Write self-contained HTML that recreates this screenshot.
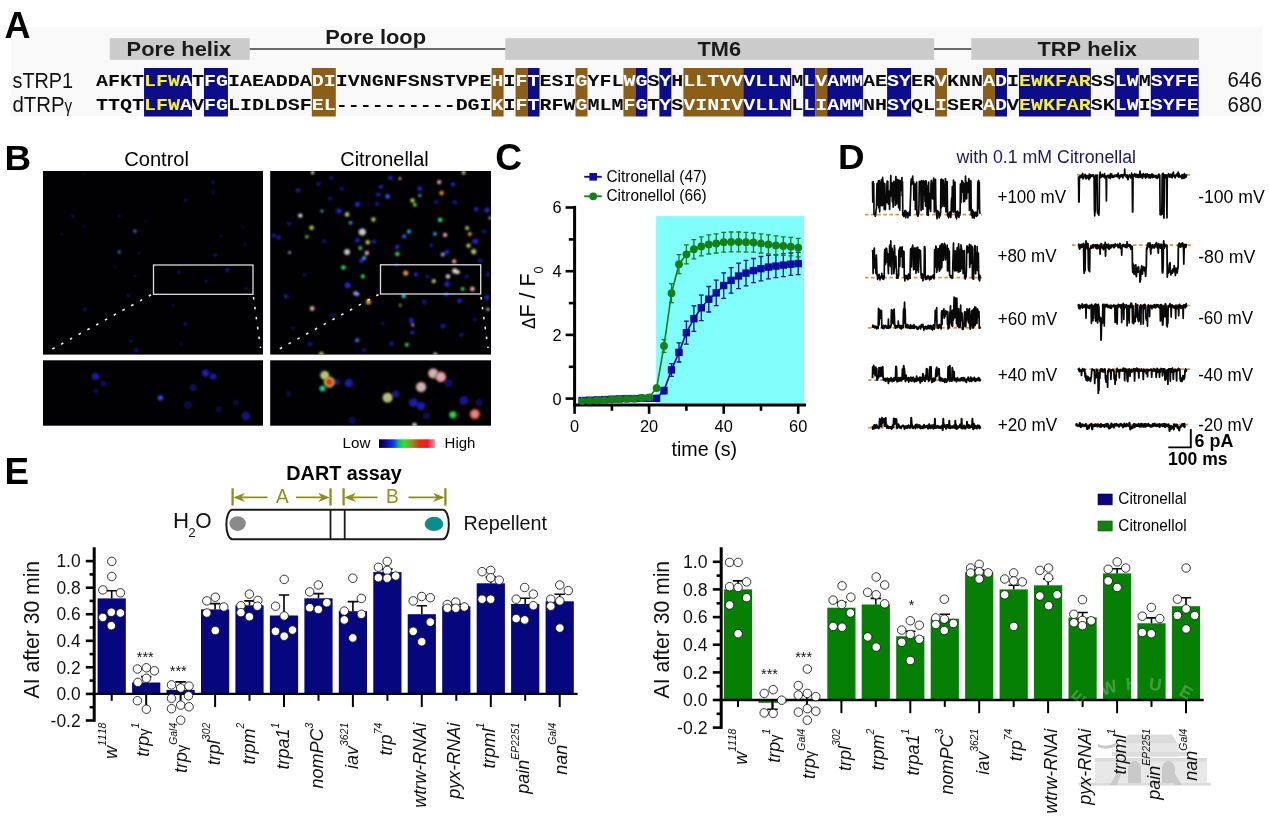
<!DOCTYPE html>
<html><head><meta charset="utf-8"><title>Figure</title>
<style>html,body{margin:0;padding:0;background:#fff;}svg{display:block;font-family:"Liberation Sans", Arial, Helvetica, sans-serif;font-kerning:none;}</style>
</head><body>
<svg width="1269" height="821" viewBox="0 0 1269 821">
<rect x="11" y="26.7" width="1251.5" height="89.3" fill="#f9f9f9"/>
<rect x="109.7" y="38.2" width="140" height="21.6" fill="#cbcbcb"/>
<rect x="505.3" y="38.2" width="428.8" height="21.6" fill="#cbcbcb"/>
<rect x="971.3" y="38.2" width="227.6" height="21.6" fill="#cbcbcb"/>
<line x1="249.7" y1="49" x2="505.3" y2="49" stroke="#3a3a3a" stroke-width="1.5"/>
<line x1="934" y1="49" x2="971.3" y2="49" stroke="#3a3a3a" stroke-width="1.5"/>
<text x="126.6" y="56.3" font-size="20.90" font-weight="bold" font-style="normal" fill="#1a1a1a" text-anchor="start"  textLength="104.6" lengthAdjust="spacingAndGlyphs">Pore helix</text>
<text x="325.2" y="44.2" font-size="20.90" font-weight="bold" font-style="normal" fill="#1a1a1a" text-anchor="start"  textLength="100.9" lengthAdjust="spacingAndGlyphs">Pore loop</text>
<text x="697.5" y="56.3" font-size="20.90" font-weight="bold" font-style="normal" fill="#1a1a1a" text-anchor="start"  textLength="43.5" lengthAdjust="spacingAndGlyphs">TM6</text>
<text x="1037.5" y="56.3" font-size="20.90" font-weight="bold" font-style="normal" fill="#1a1a1a" text-anchor="start"  textLength="99.5" lengthAdjust="spacingAndGlyphs">TRP helix</text>
<text x="12.5" y="87.6" font-size="21.22" font-weight="normal" font-style="normal" fill="#111" text-anchor="start"  textLength="60.6" lengthAdjust="spacingAndGlyphs">sTRP1</text>
<text x="12.5" y="111.8" font-size="21.22" font-weight="normal" font-style="normal" fill="#111" text-anchor="start"  textLength="52.2" lengthAdjust="spacingAndGlyphs">dTRP</text>
<text x="64.6" y="111.8" font-size="18.20" font-weight="normal" font-style="normal" fill="#111" text-anchor="start"  textLength="7.6" lengthAdjust="spacingAndGlyphs">γ</text>
<text x="1227.6" y="87.3" font-size="21.22" font-weight="normal" font-style="normal" fill="#111" text-anchor="start"  textLength="34.2" lengthAdjust="spacingAndGlyphs">646</text>
<text x="1227.6" y="111.5" font-size="21.22" font-weight="normal" font-style="normal" fill="#111" text-anchor="start"  textLength="34.2" lengthAdjust="spacingAndGlyphs">680</text>
<rect x="144.04" y="68" width="47.94" height="48.5" fill="#0d0d8c"/>
<rect x="203.96" y="68" width="23.97" height="48.5" fill="#0d0d8c"/>
<rect x="311.83" y="68" width="23.97" height="48.5" fill="#8c5f19"/>
<rect x="491.61" y="68" width="11.98" height="48.5" fill="#8c5f19"/>
<rect x="515.57" y="68" width="11.98" height="48.5" fill="#8c5f19"/>
<rect x="527.56" y="68" width="11.98" height="48.5" fill="#0d0d8c"/>
<rect x="575.50" y="68" width="11.98" height="48.5" fill="#8c5f19"/>
<rect x="623.44" y="68" width="11.98" height="48.5" fill="#8c5f19"/>
<rect x="635.42" y="68" width="11.98" height="48.5" fill="#0d0d8c"/>
<rect x="659.39" y="68" width="11.98" height="48.5" fill="#0d0d8c"/>
<rect x="683.37" y="68" width="59.92" height="48.5" fill="#8c5f19"/>
<rect x="743.29" y="68" width="47.94" height="48.5" fill="#0d0d8c"/>
<rect x="803.22" y="68" width="11.98" height="48.5" fill="#0d0d8c"/>
<rect x="815.20" y="68" width="11.98" height="48.5" fill="#8c5f19"/>
<rect x="827.18" y="68" width="35.95" height="48.5" fill="#0d0d8c"/>
<rect x="887.11" y="68" width="23.97" height="48.5" fill="#0d0d8c"/>
<rect x="935.05" y="68" width="11.98" height="48.5" fill="#8c5f19"/>
<rect x="982.99" y="68" width="11.98" height="48.5" fill="#8c5f19"/>
<rect x="994.98" y="68" width="11.98" height="48.5" fill="#0d0d8c"/>
<rect x="1018.94" y="68" width="71.91" height="48.5" fill="#0d0d8c"/>
<rect x="1114.82" y="68" width="23.97" height="48.5" fill="#0d0d8c"/>
<rect x="1150.78" y="68" width="47.94" height="48.5" fill="#0d0d8c"/>
<text transform="scale(1.22,1)" x="83.68 93.51 103.33 113.15" y="85.8" font-family='"Liberation Mono", "Courier New", monospace' font-weight="bold" font-size="16.4" fill="#0a0a0a" text-anchor="middle">AFKT</text>
<text transform="scale(1.22,1)" x="122.98 132.80 142.62" y="85.8" font-family='"Liberation Mono", "Courier New", monospace' font-weight="bold" font-size="16.4" fill="#f5f032" text-anchor="middle">LFW</text>
<text transform="scale(1.22,1)" x="152.45" y="85.8" font-family='"Liberation Mono", "Courier New", monospace' font-weight="bold" font-size="16.4" fill="#ffffff" text-anchor="middle">A</text>
<text transform="scale(1.22,1)" x="162.27" y="85.8" font-family='"Liberation Mono", "Courier New", monospace' font-weight="bold" font-size="16.4" fill="#0a0a0a" text-anchor="middle">T</text>
<text transform="scale(1.22,1)" x="172.10 181.92" y="85.8" font-family='"Liberation Mono", "Courier New", monospace' font-weight="bold" font-size="16.4" fill="#ffffff" text-anchor="middle">FG</text>
<text transform="scale(1.22,1)" x="191.74 201.57 211.39 221.22 231.04 240.86 250.69" y="85.8" font-family='"Liberation Mono", "Courier New", monospace' font-weight="bold" font-size="16.4" fill="#0a0a0a" text-anchor="middle">IAEADDA</text>
<text transform="scale(1.22,1)" x="260.51 270.33" y="85.8" font-family='"Liberation Mono", "Courier New", monospace' font-weight="bold" font-size="16.4" fill="#ffffff" text-anchor="middle">DI</text>
<text transform="scale(1.22,1)" x="280.16 289.98 299.81 309.63 319.45 329.28 339.10 348.92 358.75 368.57 378.40 388.22 398.04" y="85.8" font-family='"Liberation Mono", "Courier New", monospace' font-weight="bold" font-size="16.4" fill="#0a0a0a" text-anchor="middle">IVNGNFSNSTVPE</text>
<text transform="scale(1.22,1)" x="407.87" y="85.8" font-family='"Liberation Mono", "Courier New", monospace' font-weight="bold" font-size="16.4" fill="#ffffff" text-anchor="middle">H</text>
<text transform="scale(1.22,1)" x="417.69" y="85.8" font-family='"Liberation Mono", "Courier New", monospace' font-weight="bold" font-size="16.4" fill="#0a0a0a" text-anchor="middle">I</text>
<text transform="scale(1.22,1)" x="427.51 437.34" y="85.8" font-family='"Liberation Mono", "Courier New", monospace' font-weight="bold" font-size="16.4" fill="#ffffff" text-anchor="middle">FT</text>
<text transform="scale(1.22,1)" x="447.16 456.99 466.81" y="85.8" font-family='"Liberation Mono", "Courier New", monospace' font-weight="bold" font-size="16.4" fill="#0a0a0a" text-anchor="middle">ESI</text>
<text transform="scale(1.22,1)" x="476.63" y="85.8" font-family='"Liberation Mono", "Courier New", monospace' font-weight="bold" font-size="16.4" fill="#ffffff" text-anchor="middle">G</text>
<text transform="scale(1.22,1)" x="486.46 496.28 506.10" y="85.8" font-family='"Liberation Mono", "Courier New", monospace' font-weight="bold" font-size="16.4" fill="#0a0a0a" text-anchor="middle">YFL</text>
<text transform="scale(1.22,1)" x="515.93 525.75" y="85.8" font-family='"Liberation Mono", "Courier New", monospace' font-weight="bold" font-size="16.4" fill="#ffffff" text-anchor="middle">WG</text>
<text transform="scale(1.22,1)" x="535.58" y="85.8" font-family='"Liberation Mono", "Courier New", monospace' font-weight="bold" font-size="16.4" fill="#0a0a0a" text-anchor="middle">S</text>
<text transform="scale(1.22,1)" x="545.40" y="85.8" font-family='"Liberation Mono", "Courier New", monospace' font-weight="bold" font-size="16.4" fill="#ffffff" text-anchor="middle">Y</text>
<text transform="scale(1.22,1)" x="555.22" y="85.8" font-family='"Liberation Mono", "Courier New", monospace' font-weight="bold" font-size="16.4" fill="#0a0a0a" text-anchor="middle">H</text>
<text transform="scale(1.22,1)" x="565.05 574.87 584.69 594.52 604.34 614.17 623.99 633.81 643.64" y="85.8" font-family='"Liberation Mono", "Courier New", monospace' font-weight="bold" font-size="16.4" fill="#ffffff" text-anchor="middle">LLTVVVLLN</text>
<text transform="scale(1.22,1)" x="653.46" y="85.8" font-family='"Liberation Mono", "Courier New", monospace' font-weight="bold" font-size="16.4" fill="#0a0a0a" text-anchor="middle">M</text>
<text transform="scale(1.22,1)" x="663.28 673.11 682.93 692.76 702.58" y="85.8" font-family='"Liberation Mono", "Courier New", monospace' font-weight="bold" font-size="16.4" fill="#ffffff" text-anchor="middle">LVAMM</text>
<text transform="scale(1.22,1)" x="712.40 722.23" y="85.8" font-family='"Liberation Mono", "Courier New", monospace' font-weight="bold" font-size="16.4" fill="#0a0a0a" text-anchor="middle">AE</text>
<text transform="scale(1.22,1)" x="732.05 741.88" y="85.8" font-family='"Liberation Mono", "Courier New", monospace' font-weight="bold" font-size="16.4" fill="#ffffff" text-anchor="middle">SY</text>
<text transform="scale(1.22,1)" x="751.70 761.52" y="85.8" font-family='"Liberation Mono", "Courier New", monospace' font-weight="bold" font-size="16.4" fill="#0a0a0a" text-anchor="middle">ER</text>
<text transform="scale(1.22,1)" x="771.35" y="85.8" font-family='"Liberation Mono", "Courier New", monospace' font-weight="bold" font-size="16.4" fill="#ffffff" text-anchor="middle">V</text>
<text transform="scale(1.22,1)" x="781.17 790.99 800.82" y="85.8" font-family='"Liberation Mono", "Courier New", monospace' font-weight="bold" font-size="16.4" fill="#0a0a0a" text-anchor="middle">KNN</text>
<text transform="scale(1.22,1)" x="810.64 820.47" y="85.8" font-family='"Liberation Mono", "Courier New", monospace' font-weight="bold" font-size="16.4" fill="#ffffff" text-anchor="middle">AD</text>
<text transform="scale(1.22,1)" x="830.29" y="85.8" font-family='"Liberation Mono", "Courier New", monospace' font-weight="bold" font-size="16.4" fill="#0a0a0a" text-anchor="middle">I</text>
<text transform="scale(1.22,1)" x="840.11 849.94 859.76 869.58 879.41 889.23" y="85.8" font-family='"Liberation Mono", "Courier New", monospace' font-weight="bold" font-size="16.4" fill="#f5f032" text-anchor="middle">EWKFAR</text>
<text transform="scale(1.22,1)" x="899.06 908.88" y="85.8" font-family='"Liberation Mono", "Courier New", monospace' font-weight="bold" font-size="16.4" fill="#0a0a0a" text-anchor="middle">SS</text>
<text transform="scale(1.22,1)" x="918.70 928.53" y="85.8" font-family='"Liberation Mono", "Courier New", monospace' font-weight="bold" font-size="16.4" fill="#ffffff" text-anchor="middle">LW</text>
<text transform="scale(1.22,1)" x="938.35" y="85.8" font-family='"Liberation Mono", "Courier New", monospace' font-weight="bold" font-size="16.4" fill="#0a0a0a" text-anchor="middle">M</text>
<text transform="scale(1.22,1)" x="948.17 958.00 967.82 977.65" y="85.8" font-family='"Liberation Mono", "Courier New", monospace' font-weight="bold" font-size="16.4" fill="#ffffff" text-anchor="middle">SYFE</text>
<text transform="scale(1.22,1)" x="83.68 93.51 103.33 113.15" y="110.0" font-family='"Liberation Mono", "Courier New", monospace' font-weight="bold" font-size="16.4" fill="#0a0a0a" text-anchor="middle">TTQT</text>
<text transform="scale(1.22,1)" x="122.98 132.80 142.62" y="110.0" font-family='"Liberation Mono", "Courier New", monospace' font-weight="bold" font-size="16.4" fill="#f5f032" text-anchor="middle">LFW</text>
<text transform="scale(1.22,1)" x="152.45" y="110.0" font-family='"Liberation Mono", "Courier New", monospace' font-weight="bold" font-size="16.4" fill="#ffffff" text-anchor="middle">A</text>
<text transform="scale(1.22,1)" x="162.27" y="110.0" font-family='"Liberation Mono", "Courier New", monospace' font-weight="bold" font-size="16.4" fill="#0a0a0a" text-anchor="middle">V</text>
<text transform="scale(1.22,1)" x="172.10 181.92" y="110.0" font-family='"Liberation Mono", "Courier New", monospace' font-weight="bold" font-size="16.4" fill="#ffffff" text-anchor="middle">FG</text>
<text transform="scale(1.22,1)" x="191.74 201.57 211.39 221.22 231.04 240.86 250.69" y="110.0" font-family='"Liberation Mono", "Courier New", monospace' font-weight="bold" font-size="16.4" fill="#0a0a0a" text-anchor="middle">LIDLDSF</text>
<text transform="scale(1.22,1)" x="260.51 270.33" y="110.0" font-family='"Liberation Mono", "Courier New", monospace' font-weight="bold" font-size="16.4" fill="#ffffff" text-anchor="middle">EL</text>
<text transform="scale(1.22,1)" x="280.16 289.98 299.81 309.63 319.45 329.28 339.10 348.92 358.75 368.57 378.40 388.22 398.04" y="110.0" font-family='"Liberation Mono", "Courier New", monospace' font-weight="bold" font-size="16.4" fill="#0a0a0a" text-anchor="middle">----------DGI</text>
<text transform="scale(1.22,1)" x="407.87" y="110.0" font-family='"Liberation Mono", "Courier New", monospace' font-weight="bold" font-size="16.4" fill="#ffffff" text-anchor="middle">K</text>
<text transform="scale(1.22,1)" x="417.69" y="110.0" font-family='"Liberation Mono", "Courier New", monospace' font-weight="bold" font-size="16.4" fill="#0a0a0a" text-anchor="middle">I</text>
<text transform="scale(1.22,1)" x="427.51 437.34" y="110.0" font-family='"Liberation Mono", "Courier New", monospace' font-weight="bold" font-size="16.4" fill="#ffffff" text-anchor="middle">FT</text>
<text transform="scale(1.22,1)" x="447.16 456.99 466.81" y="110.0" font-family='"Liberation Mono", "Courier New", monospace' font-weight="bold" font-size="16.4" fill="#0a0a0a" text-anchor="middle">RFW</text>
<text transform="scale(1.22,1)" x="476.63" y="110.0" font-family='"Liberation Mono", "Courier New", monospace' font-weight="bold" font-size="16.4" fill="#ffffff" text-anchor="middle">G</text>
<text transform="scale(1.22,1)" x="486.46 496.28 506.10" y="110.0" font-family='"Liberation Mono", "Courier New", monospace' font-weight="bold" font-size="16.4" fill="#0a0a0a" text-anchor="middle">MLM</text>
<text transform="scale(1.22,1)" x="515.93 525.75" y="110.0" font-family='"Liberation Mono", "Courier New", monospace' font-weight="bold" font-size="16.4" fill="#ffffff" text-anchor="middle">FG</text>
<text transform="scale(1.22,1)" x="535.58" y="110.0" font-family='"Liberation Mono", "Courier New", monospace' font-weight="bold" font-size="16.4" fill="#0a0a0a" text-anchor="middle">T</text>
<text transform="scale(1.22,1)" x="545.40" y="110.0" font-family='"Liberation Mono", "Courier New", monospace' font-weight="bold" font-size="16.4" fill="#ffffff" text-anchor="middle">Y</text>
<text transform="scale(1.22,1)" x="555.22" y="110.0" font-family='"Liberation Mono", "Courier New", monospace' font-weight="bold" font-size="16.4" fill="#0a0a0a" text-anchor="middle">S</text>
<text transform="scale(1.22,1)" x="565.05 574.87 584.69 594.52 604.34 614.17 623.99 633.81 643.64" y="110.0" font-family='"Liberation Mono", "Courier New", monospace' font-weight="bold" font-size="16.4" fill="#ffffff" text-anchor="middle">VINIVVLLN</text>
<text transform="scale(1.22,1)" x="653.46" y="110.0" font-family='"Liberation Mono", "Courier New", monospace' font-weight="bold" font-size="16.4" fill="#0a0a0a" text-anchor="middle">L</text>
<text transform="scale(1.22,1)" x="663.28 673.11 682.93 692.76 702.58" y="110.0" font-family='"Liberation Mono", "Courier New", monospace' font-weight="bold" font-size="16.4" fill="#ffffff" text-anchor="middle">LIAMM</text>
<text transform="scale(1.22,1)" x="712.40 722.23" y="110.0" font-family='"Liberation Mono", "Courier New", monospace' font-weight="bold" font-size="16.4" fill="#0a0a0a" text-anchor="middle">NH</text>
<text transform="scale(1.22,1)" x="732.05 741.88" y="110.0" font-family='"Liberation Mono", "Courier New", monospace' font-weight="bold" font-size="16.4" fill="#ffffff" text-anchor="middle">SY</text>
<text transform="scale(1.22,1)" x="751.70 761.52" y="110.0" font-family='"Liberation Mono", "Courier New", monospace' font-weight="bold" font-size="16.4" fill="#0a0a0a" text-anchor="middle">QL</text>
<text transform="scale(1.22,1)" x="771.35" y="110.0" font-family='"Liberation Mono", "Courier New", monospace' font-weight="bold" font-size="16.4" fill="#ffffff" text-anchor="middle">I</text>
<text transform="scale(1.22,1)" x="781.17 790.99 800.82" y="110.0" font-family='"Liberation Mono", "Courier New", monospace' font-weight="bold" font-size="16.4" fill="#0a0a0a" text-anchor="middle">SER</text>
<text transform="scale(1.22,1)" x="810.64 820.47" y="110.0" font-family='"Liberation Mono", "Courier New", monospace' font-weight="bold" font-size="16.4" fill="#ffffff" text-anchor="middle">AD</text>
<text transform="scale(1.22,1)" x="830.29" y="110.0" font-family='"Liberation Mono", "Courier New", monospace' font-weight="bold" font-size="16.4" fill="#0a0a0a" text-anchor="middle">V</text>
<text transform="scale(1.22,1)" x="840.11 849.94 859.76 869.58 879.41 889.23" y="110.0" font-family='"Liberation Mono", "Courier New", monospace' font-weight="bold" font-size="16.4" fill="#f5f032" text-anchor="middle">EWKFAR</text>
<text transform="scale(1.22,1)" x="899.06 908.88" y="110.0" font-family='"Liberation Mono", "Courier New", monospace' font-weight="bold" font-size="16.4" fill="#0a0a0a" text-anchor="middle">SK</text>
<text transform="scale(1.22,1)" x="918.70 928.53" y="110.0" font-family='"Liberation Mono", "Courier New", monospace' font-weight="bold" font-size="16.4" fill="#ffffff" text-anchor="middle">LW</text>
<text transform="scale(1.22,1)" x="938.35" y="110.0" font-family='"Liberation Mono", "Courier New", monospace' font-weight="bold" font-size="16.4" fill="#0a0a0a" text-anchor="middle">I</text>
<text transform="scale(1.22,1)" x="948.17 958.00 967.82 977.65" y="110.0" font-family='"Liberation Mono", "Courier New", monospace' font-weight="bold" font-size="16.4" fill="#ffffff" text-anchor="middle">SYFE</text>
<defs><filter id="bl" x="-50%" y="-50%" width="200%" height="200%"><feGaussianBlur stdDeviation="0.95"/></filter><filter id="bl2" x="-50%" y="-50%" width="200%" height="200%"><feGaussianBlur stdDeviation="1.2"/></filter><linearGradient id="cb" x1="0" x2="1" y1="0" y2="0"><stop offset="0" stop-color="#02022a"/><stop offset="0.12" stop-color="#0a0a90"/><stop offset="0.25" stop-color="#1030ff"/><stop offset="0.36" stop-color="#10c060"/><stop offset="0.45" stop-color="#30e030"/><stop offset="0.58" stop-color="#909020"/><stop offset="0.72" stop-color="#e03010"/><stop offset="0.86" stop-color="#f01830"/><stop offset="0.95" stop-color="#e07080"/><stop offset="1" stop-color="#c8b8b8"/></linearGradient><clipPath id="c1"><rect x="43" y="171" width="220" height="183.6"/></clipPath><clipPath id="c2"><rect x="43" y="360.3" width="220" height="65.4"/></clipPath><clipPath id="c3"><rect x="270.2" y="171" width="220.8" height="183.6"/></clipPath><clipPath id="c4"><rect x="270.2" y="360.3" width="220.8" height="65.4"/></clipPath></defs>
<rect x="43" y="171" width="220" height="183.6" fill="#010103"/>
<rect x="43" y="360.3" width="220" height="65.4" fill="#010103"/>
<rect x="270.2" y="171" width="220.8" height="183.6" fill="#010103"/>
<rect x="270.2" y="360.3" width="220.8" height="65.4" fill="#010103"/>
<text x="124.2" y="165.7" font-size="20.70" font-weight="normal" font-style="normal" fill="#000" text-anchor="start"  textLength="64.8" lengthAdjust="spacingAndGlyphs">Control</text>
<text x="340.3" y="165.7" font-size="20.59" font-weight="normal" font-style="normal" fill="#000" text-anchor="start"  textLength="88.4" lengthAdjust="spacingAndGlyphs">Citronellal</text>
<g clip-path="url(#c1)"><g filter="url(#bl)">
<circle cx="135.0" cy="231.1" r="1.6" fill="#4080ff" fill-opacity="1"/>
<circle cx="119.2" cy="252.0" r="1.4" fill="#6080ff" fill-opacity="1"/>
<circle cx="215.1" cy="255.1" r="1.3" fill="#2222d0" fill-opacity="1"/>
<circle cx="72.8" cy="216.1" r="1.6" fill="#14148c" fill-opacity="0.7"/>
<circle cx="119.2" cy="216.1" r="1.6" fill="#14148c" fill-opacity="0.6"/>
<circle cx="185.3" cy="200.6" r="2" fill="#14148c" fill-opacity="0.5"/>
<circle cx="212.9" cy="181.9" r="1.8" fill="#14148c" fill-opacity="0.6"/>
<circle cx="212.9" cy="192.9" r="1.8" fill="#14148c" fill-opacity="0.5"/>
<circle cx="227.3" cy="270.1" r="2" fill="#2222d0" fill-opacity="0.8"/>
<circle cx="178.7" cy="272.3" r="1.8" fill="#14148c" fill-opacity="0.8"/>
<circle cx="206.3" cy="281.1" r="1.6" fill="#14148c" fill-opacity="0.8"/>
<circle cx="83.8" cy="226.0" r="1.5" fill="#14148c" fill-opacity="0.5"/>
<circle cx="139.0" cy="253.6" r="1.5" fill="#14148c" fill-opacity="0.6"/>
<circle cx="134.6" cy="275.6" r="1.6" fill="#14148c" fill-opacity="0.5"/>
<circle cx="244.9" cy="244.7" r="1.6" fill="#14148c" fill-opacity="0.5"/>
<circle cx="61.8" cy="233.7" r="1.5" fill="#14148c" fill-opacity="0.4"/>
<circle cx="145.6" cy="220.5" r="1.5" fill="#14148c" fill-opacity="0.5"/>
<circle cx="83.8" cy="174.1" r="1.4" fill="#14148c" fill-opacity="0.5"/>
<circle cx="242.7" cy="227.1" r="1.5" fill="#14148c" fill-opacity="0.4"/>
<circle cx="114.7" cy="266.8" r="1.5" fill="#14148c" fill-opacity="0.4"/>
<circle cx="220.7" cy="235.9" r="1.5" fill="#14148c" fill-opacity="0.4"/>
</g></g>
<g clip-path="url(#c1)"><g filter="url(#bl)">
<circle cx="136.4" cy="350.2" r="2.2" fill="#14148c" fill-opacity="0.8"/>
<circle cx="185.0" cy="323.9" r="2" fill="#14148c" fill-opacity="0.8"/>
<circle cx="84.8" cy="309.2" r="2" fill="#14148c" fill-opacity="0.6"/>
<circle cx="128.7" cy="295.4" r="2" fill="#14148c" fill-opacity="0.5"/>
<circle cx="130.9" cy="341.4" r="1.8" fill="#14148c" fill-opacity="0.6"/>
<circle cx="172.5" cy="305.2" r="1.8" fill="#14148c" fill-opacity="0.5"/>
<circle cx="246.0" cy="288.8" r="1.8" fill="#14148c" fill-opacity="0.6"/>
<circle cx="181.3" cy="343.6" r="1.8" fill="#14148c" fill-opacity="0.4"/>
</g></g>
<g clip-path="url(#c2)"><g filter="url(#bl2)">
<circle cx="95.4" cy="376.5" r="3.6" fill="#2222d0" fill-opacity="0.85"/>
<circle cx="103.5" cy="383.5" r="3" fill="#14148c" fill-opacity="0.7"/>
<circle cx="205.4" cy="373.2" r="3.4" fill="#2222d0" fill-opacity="0.9"/>
<circle cx="213.1" cy="376.5" r="3.2" fill="#2222d0" fill-opacity="0.8"/>
<circle cx="160.5" cy="397.8" r="2.6" fill="#3050ff" fill-opacity="1"/>
<circle cx="193.4" cy="387.5" r="3.4" fill="#14148c" fill-opacity="0.7"/>
<circle cx="246.0" cy="416.0" r="4.4" fill="#14148c" fill-opacity="0.9"/>
<circle cx="187.9" cy="405.0" r="4" fill="#14148c" fill-opacity="0.5"/>
<circle cx="95.8" cy="390.7" r="2.5" fill="#14148c" fill-opacity="0.5"/>
<circle cx="218.6" cy="409.4" r="3" fill="#14148c" fill-opacity="0.4"/>
<circle cx="236.1" cy="402.8" r="3" fill="#14148c" fill-opacity="0.4"/>
</g></g>
<g clip-path="url(#c3)"><g filter="url(#bl)">
<circle cx="312.6" cy="172.7" r="1.7" fill="#d8d0d0" fill-opacity="1"/>
<circle cx="463.6" cy="172.7" r="2" fill="#b0c850" fill-opacity="1"/>
<circle cx="399.9" cy="178.4" r="1.5" fill="#e0a0a0" fill-opacity="1"/>
<circle cx="439.2" cy="182.1" r="2.2" fill="#e0a0a0" fill-opacity="1"/>
<circle cx="441.6" cy="193.0" r="2.2" fill="#e09040" fill-opacity="1"/>
<circle cx="298.0" cy="190.3" r="2" fill="#2222d0" fill-opacity="1"/>
<circle cx="318.4" cy="183.8" r="2" fill="#14148c" fill-opacity="1"/>
<circle cx="331.1" cy="178.0" r="2" fill="#14148c" fill-opacity="1"/>
<circle cx="390.5" cy="178.0" r="2.2" fill="#2222d0" fill-opacity="1"/>
<circle cx="419.8" cy="188.7" r="2.4" fill="#2222d0" fill-opacity="1"/>
<circle cx="419.8" cy="195.5" r="1.6" fill="#30b0e0" fill-opacity="1"/>
<circle cx="387.6" cy="196.5" r="2.4" fill="#3050ff" fill-opacity="1"/>
<circle cx="378.3" cy="194.5" r="2" fill="#2222d0" fill-opacity="1"/>
<circle cx="452.9" cy="184.4" r="2.2" fill="#2222d0" fill-opacity="1"/>
<circle cx="412.5" cy="200.4" r="2.2" fill="#b0c850" fill-opacity="1"/>
<circle cx="414.9" cy="204.7" r="2" fill="#30d060" fill-opacity="1"/>
<circle cx="357.4" cy="204.3" r="2.6" fill="#2222d0" fill-opacity="1"/>
<circle cx="376.9" cy="203.9" r="1.8" fill="#2222d0" fill-opacity="1"/>
<circle cx="436.3" cy="202.0" r="2.2" fill="#14148c" fill-opacity="1"/>
<circle cx="322.0" cy="211.1" r="1.5" fill="#30b0e0" fill-opacity="1"/>
<circle cx="338.9" cy="211.1" r="2.6" fill="#2222d0" fill-opacity="1"/>
<circle cx="347.1" cy="214.4" r="2.3" fill="#b0c850" fill-opacity="1"/>
<circle cx="350.6" cy="222.8" r="1.8" fill="#30b0e0" fill-opacity="1"/>
<circle cx="373.4" cy="219.5" r="2.2" fill="#b0c850" fill-opacity="1"/>
<circle cx="300.3" cy="215.6" r="2.2" fill="#d8d0d0" fill-opacity="1"/>
<circle cx="311.6" cy="227.7" r="2.3" fill="#b0c850" fill-opacity="1"/>
<circle cx="306.8" cy="236.8" r="1.8" fill="#30d060" fill-opacity="1"/>
<circle cx="440.2" cy="219.9" r="2.4" fill="#30d060" fill-opacity="1"/>
<circle cx="467.1" cy="228.1" r="2" fill="#b0c850" fill-opacity="1"/>
<circle cx="469.8" cy="233.9" r="2" fill="#e09040" fill-opacity="1"/>
<circle cx="487.0" cy="210.1" r="2.6" fill="#2222d0" fill-opacity="1"/>
<circle cx="476.2" cy="209.2" r="2.2" fill="#2222d0" fill-opacity="1"/>
<circle cx="362.3" cy="232.0" r="3.6" fill="#c8c8cc" fill-opacity="1"/>
<circle cx="409.0" cy="231.6" r="2" fill="#30b0e0" fill-opacity="1"/>
<circle cx="404.2" cy="236.4" r="2.2" fill="#3050ff" fill-opacity="1"/>
<circle cx="434.9" cy="233.9" r="1.8" fill="#30b0e0" fill-opacity="1"/>
<circle cx="445.1" cy="234.9" r="2.2" fill="#e0a0a0" fill-opacity="1"/>
<circle cx="367.7" cy="242.3" r="2.2" fill="#b0c850" fill-opacity="1"/>
<circle cx="374.0" cy="241.7" r="2" fill="#2222d0" fill-opacity="1"/>
<circle cx="357.4" cy="240.3" r="2.2" fill="#2222d0" fill-opacity="1"/>
<circle cx="360.3" cy="248.1" r="2" fill="#30d060" fill-opacity="1"/>
<circle cx="366.8" cy="253.0" r="2.2" fill="#e0a0a0" fill-opacity="1"/>
<circle cx="347.1" cy="252.0" r="2.9" fill="#c8c8cc" fill-opacity="1"/>
<circle cx="364.2" cy="257.9" r="2" fill="#30b0e0" fill-opacity="1"/>
<circle cx="397.3" cy="254.0" r="2.2" fill="#30d060" fill-opacity="1"/>
<circle cx="397.3" cy="247.1" r="2.4" fill="#2222d0" fill-opacity="1"/>
<circle cx="468.5" cy="245.6" r="2.2" fill="#b0c850" fill-opacity="1"/>
<circle cx="473.7" cy="251.6" r="2.6" fill="#b0c850" fill-opacity="1"/>
<circle cx="475.3" cy="241.3" r="2.8" fill="#2222d0" fill-opacity="1"/>
<circle cx="442.7" cy="254.6" r="2" fill="#80a0ff" fill-opacity="1"/>
<circle cx="447.0" cy="252.0" r="2.2" fill="#2222d0" fill-opacity="1"/>
<circle cx="454.2" cy="261.4" r="2.2" fill="#e0a0a0" fill-opacity="1"/>
<circle cx="289.6" cy="252.6" r="1.4" fill="#c0b0e0" fill-opacity="1"/>
<circle cx="343.4" cy="267.6" r="2.3" fill="#30d060" fill-opacity="1"/>
<circle cx="362.9" cy="276.4" r="2.1" fill="#30d060" fill-opacity="1"/>
<circle cx="347.7" cy="285.1" r="2.6" fill="#2222d0" fill-opacity="1"/>
<circle cx="361.3" cy="260.8" r="2.4" fill="#2222d0" fill-opacity="1"/>
<circle cx="357.4" cy="293.9" r="2" fill="#8090ff" fill-opacity="1"/>
<circle cx="403.8" cy="296.2" r="1.8" fill="#30b0e0" fill-opacity="1"/>
<circle cx="405.7" cy="273.1" r="2.6" fill="#e09040" fill-opacity="1"/>
<circle cx="415.9" cy="274.4" r="2.2" fill="#2222d0" fill-opacity="1"/>
<circle cx="454.8" cy="270.9" r="2.6" fill="#d8d0d0" fill-opacity="1"/>
<circle cx="457.7" cy="272.1" r="2.2" fill="#d8d0d0" fill-opacity="1"/>
<circle cx="448.0" cy="276.4" r="2.2" fill="#d8d0d0" fill-opacity="1"/>
<circle cx="433.8" cy="281.2" r="2.1" fill="#b0c850" fill-opacity="1"/>
<circle cx="447.0" cy="284.2" r="2.6" fill="#2222d0" fill-opacity="1"/>
<circle cx="462.6" cy="289.0" r="2" fill="#30d060" fill-opacity="1"/>
<circle cx="472.4" cy="289.0" r="2.4" fill="#e0a0a0" fill-opacity="1"/>
<circle cx="278.5" cy="237.4" r="2.4" fill="#14148c" fill-opacity="1"/>
<circle cx="273.6" cy="235.5" r="2.2" fill="#14148c" fill-opacity="1"/>
<circle cx="489.9" cy="217.9" r="1.6" fill="#9090a0" fill-opacity="1"/>
<circle cx="396.4" cy="264.7" r="2" fill="#14148c" fill-opacity="1"/>
<circle cx="427.5" cy="276.4" r="2" fill="#14148c" fill-opacity="1"/>
<circle cx="484.0" cy="231.6" r="2.2" fill="#14148c" fill-opacity="1"/>
<circle cx="480.1" cy="260.8" r="2.4" fill="#14148c" fill-opacity="1"/>
<circle cx="330.1" cy="198.4" r="2" fill="#14148c" fill-opacity="1"/>
<circle cx="289.2" cy="223.8" r="2" fill="#14148c" fill-opacity="1"/>
<circle cx="324.3" cy="241.3" r="2" fill="#14148c" fill-opacity="1"/>
<circle cx="454.8" cy="202.3" r="2.2" fill="#14148c" fill-opacity="1"/>
<circle cx="431.4" cy="245.2" r="2" fill="#14148c" fill-opacity="1"/>
<circle cx="380.8" cy="186.8" r="2" fill="#2222d0" fill-opacity="1"/>
<circle cx="341.8" cy="188.7" r="2" fill="#14148c" fill-opacity="1"/>
<circle cx="487.9" cy="274.4" r="2.2" fill="#14148c" fill-opacity="1"/>
<circle cx="304.8" cy="274.4" r="2" fill="#14148c" fill-opacity="0.6"/>
<circle cx="285.3" cy="295.9" r="2" fill="#14148c" fill-opacity="0.6"/>
<circle cx="466.5" cy="276.4" r="2" fill="#14148c" fill-opacity="1"/>
</g></g>
<g clip-path="url(#c3)"><g filter="url(#bl)">
<circle cx="312.2" cy="308.5" r="2.4" fill="#e0a0a0" fill-opacity="1"/>
<circle cx="368.5" cy="301.9" r="2.6" fill="#e09040" fill-opacity="1"/>
<circle cx="355.3" cy="293.2" r="2" fill="#90a0ff" fill-opacity="1"/>
<circle cx="347.7" cy="285.5" r="2.4" fill="#2222d0" fill-opacity="1"/>
<circle cx="403.6" cy="295.8" r="1.8" fill="#30b0e0" fill-opacity="1"/>
<circle cx="400.3" cy="305.2" r="1.2" fill="#b0c850" fill-opacity="1"/>
<circle cx="446.3" cy="294.2" r="2.2" fill="#2222d0" fill-opacity="1"/>
<circle cx="459.5" cy="300.8" r="2.4" fill="#2222d0" fill-opacity="1"/>
<circle cx="486.8" cy="297.5" r="2.4" fill="#2222d0" fill-opacity="1"/>
<circle cx="487.9" cy="309.2" r="1.8" fill="#a0a0a0" fill-opacity="1"/>
<circle cx="411.2" cy="320.5" r="2.4" fill="#2222d0" fill-opacity="1"/>
<circle cx="412.8" cy="324.9" r="1.5" fill="#e0a0a0" fill-opacity="1"/>
<circle cx="412.3" cy="332.6" r="2" fill="#2222d0" fill-opacity="1"/>
<circle cx="443.0" cy="326.0" r="2.6" fill="#14148c" fill-opacity="1"/>
<circle cx="357.1" cy="340.3" r="2" fill="#3080e0" fill-opacity="1"/>
<circle cx="406.8" cy="344.7" r="2" fill="#30d060" fill-opacity="1"/>
<circle cx="310.0" cy="344.0" r="2.2" fill="#14148c" fill-opacity="1"/>
<circle cx="321.4" cy="354.1" r="2.4" fill="#b0c850" fill-opacity="1"/>
<circle cx="364.1" cy="350.1" r="2.2" fill="#14148c" fill-opacity="1"/>
<circle cx="435.3" cy="354.5" r="2" fill="#d8d0d0" fill-opacity="1"/>
<circle cx="391.5" cy="343.6" r="2.4" fill="#14148c" fill-opacity="1"/>
<circle cx="424.4" cy="301.9" r="2.4" fill="#14148c" fill-opacity="1"/>
<circle cx="286.3" cy="296.4" r="2.2" fill="#14148c" fill-opacity="1"/>
<circle cx="332.3" cy="315.1" r="2" fill="#14148c" fill-opacity="1"/>
<circle cx="461.6" cy="334.8" r="2" fill="#14148c" fill-opacity="1"/>
<circle cx="382.7" cy="323.8" r="2" fill="#14148c" fill-opacity="0.6"/>
<circle cx="474.8" cy="319.5" r="2" fill="#14148c" fill-opacity="0.6"/>
<circle cx="292.9" cy="328.2" r="2" fill="#14148c" fill-opacity="0.5"/>
</g></g>
<g clip-path="url(#c4)"><g filter="url(#bl2)">
<circle cx="348.8" cy="383.0" r="4" fill="#2222d0" fill-opacity="0.85"/>
<circle cx="413.4" cy="402.7" r="4.4" fill="#2222d0" fill-opacity="0.85"/>
<circle cx="421.1" cy="406.0" r="4" fill="#2222d0" fill-opacity="0.8"/>
<circle cx="463.8" cy="400.5" r="4.5" fill="#14148c" fill-opacity="1"/>
<circle cx="395.9" cy="394.0" r="3.6" fill="#14148c" fill-opacity="1"/>
<circle cx="448.5" cy="383.0" r="4" fill="#14148c" fill-opacity="0.7"/>
<circle cx="336.7" cy="381.9" r="3" fill="#14148c" fill-opacity="1"/>
<circle cx="479.2" cy="402.7" r="3.5" fill="#14148c" fill-opacity="0.7"/>
<circle cx="352.1" cy="420.3" r="3.5" fill="#14148c" fill-opacity="0.6"/>
<circle cx="288.5" cy="394.0" r="3" fill="#14148c" fill-opacity="0.4"/>
<circle cx="426.6" cy="415.9" r="3.5" fill="#14148c" fill-opacity="0.6"/>
<circle cx="322.5" cy="388.5" r="3" fill="#20c890" fill-opacity="1"/>
<circle cx="452.9" cy="414.8" r="3.6" fill="#20d040" fill-opacity="1"/>
<circle cx="414.5" cy="425.1" r="2.4" fill="#d8d0d0" fill-opacity="1"/>
</g></g>
<g clip-path="url(#c4)" filter="url(#bl)"><circle cx="324.7" cy="375.3" r="4.6" fill="#40d040"/><circle cx="324.7" cy="375.3" r="3.6" fill="#c0d060"/><circle cx="324.7" cy="375.3" r="2.5" fill="#e0a0a0"/></g>
<g clip-path="url(#c4)" filter="url(#bl)"><circle cx="329.3" cy="382.1" r="5.6" fill="#90d040"/><circle cx="329.3" cy="382.1" r="4.4" fill="#e07030"/><circle cx="329.3" cy="382.1" r="3.1" fill="#f02020"/></g>
<g clip-path="url(#c4)" filter="url(#bl)"><circle cx="387.6" cy="397.7" r="5.0" fill="#a0c040"/><circle cx="387.6" cy="397.7" r="3.9" fill="#c8c870"/><circle cx="387.6" cy="397.7" r="2.8" fill="#b8b0a0"/></g>
<g clip-path="url(#c4)" filter="url(#bl)"><circle cx="421.1" cy="387.0" r="5.2" fill="#c08888"/><circle cx="421.1" cy="387.0" r="4.1" fill="#c8b0b0"/><circle cx="421.1" cy="387.0" r="2.9" fill="#c6b8b8"/></g>
<g clip-path="url(#c4)" filter="url(#bl)"><circle cx="433.2" cy="373.4" r="5.2" fill="#c08080"/><circle cx="433.2" cy="373.4" r="4.1" fill="#c8b0b0"/><circle cx="433.2" cy="373.4" r="2.9" fill="#c6b8b8"/></g>
<g clip-path="url(#c4)" filter="url(#bl)"><circle cx="440.8" cy="376.9" r="5.6" fill="#d04848"/><circle cx="440.8" cy="376.9" r="4.4" fill="#d0a0a0"/><circle cx="440.8" cy="376.9" r="3.1" fill="#c8b4b4"/></g>
<g clip-path="url(#c4)" filter="url(#bl)"><circle cx="474.8" cy="414.1" r="5.4" fill="#c83020"/><circle cx="474.8" cy="414.1" r="4.2" fill="#e05848"/><circle cx="474.8" cy="414.1" r="3.0" fill="#d89090"/></g>
<rect x="153.5" y="265" width="99.5" height="29.3" stroke="#dcdcdc" stroke-width="1.3" fill="none"/>
<rect x="380.5" y="264.8" width="100.2" height="29.2" stroke="#dcdcdc" stroke-width="1.3" fill="none"/>
<line x1="151" y1="294.8" x2="49" y2="350.8" stroke="#f0ece0" stroke-width="1.6" stroke-dasharray="2.6 7.4" fill="none"/>
<line x1="253.5" y1="297" x2="260.5" y2="348" stroke="#f0ece0" stroke-width="1.6" stroke-dasharray="2.6 7.4" fill="none"/>
<line x1="378.5" y1="294.5" x2="276" y2="350.8" stroke="#f0ece0" stroke-width="1.6" stroke-dasharray="2.6 7.4" fill="none"/>
<line x1="481" y1="297" x2="488" y2="348" stroke="#f0ece0" stroke-width="1.6" stroke-dasharray="2.6 7.4" fill="none"/>
<text x="342.6" y="448.3" font-size="15.50" font-weight="normal" font-style="normal" fill="#000" text-anchor="start"  textLength="27.8" lengthAdjust="spacingAndGlyphs">Low</text>
<rect x="379" y="439.3" width="56.3" height="8.6" fill="url(#cb)"/>
<text x="444.6" y="448.3" font-size="15.50" font-weight="normal" font-style="normal" fill="#000" text-anchor="start"  textLength="30.8" lengthAdjust="spacingAndGlyphs">High</text>
<rect x="656.1" y="216.1" width="148" height="187.4" fill="#80fffd"/>
<line x1="574.6" y1="205.9" x2="574.6" y2="406.5" stroke="#000" stroke-width="3"/>
<line x1="573.1" y1="405" x2="806" y2="405" stroke="#000" stroke-width="3"/>
<line x1="565.6" y1="398.6" x2="574.6" y2="398.6" stroke="#000" stroke-width="2.6"/>
<text x="561.6" y="404.5" font-size="17.06" font-weight="normal" font-style="normal" fill="#000" text-anchor="end"  textLength="9.1" lengthAdjust="spacingAndGlyphs">0</text>
<line x1="568.8" y1="366.8" x2="574.6" y2="366.8" stroke="#000" stroke-width="2.6"/>
<line x1="565.6" y1="334.9" x2="574.6" y2="334.9" stroke="#000" stroke-width="2.6"/>
<text x="561.6" y="340.8" font-size="17.06" font-weight="normal" font-style="normal" fill="#000" text-anchor="end"  textLength="9.1" lengthAdjust="spacingAndGlyphs">2</text>
<line x1="568.8" y1="303.1" x2="574.6" y2="303.1" stroke="#000" stroke-width="2.6"/>
<line x1="565.6" y1="271.2" x2="574.6" y2="271.2" stroke="#000" stroke-width="2.6"/>
<text x="561.6" y="277.1" font-size="17.06" font-weight="normal" font-style="normal" fill="#000" text-anchor="end"  textLength="9.1" lengthAdjust="spacingAndGlyphs">4</text>
<line x1="568.8" y1="239.4" x2="574.6" y2="239.4" stroke="#000" stroke-width="2.6"/>
<line x1="565.6" y1="207.5" x2="574.6" y2="207.5" stroke="#000" stroke-width="2.6"/>
<text x="561.6" y="213.4" font-size="17.06" font-weight="normal" font-style="normal" fill="#000" text-anchor="end"  textLength="9.1" lengthAdjust="spacingAndGlyphs">6</text>
<line x1="574.6" y1="405" x2="574.6" y2="413.8" stroke="#000" stroke-width="2.6"/>
<text x="574.6" y="431.8" font-size="17.06" font-weight="normal" font-style="normal" fill="#000" text-anchor="middle"  textLength="9.1" lengthAdjust="spacingAndGlyphs">0</text>
<line x1="611.9" y1="405" x2="611.9" y2="410.8" stroke="#000" stroke-width="2.6"/>
<line x1="649.1" y1="405" x2="649.1" y2="413.8" stroke="#000" stroke-width="2.6"/>
<text x="649.1" y="431.8" font-size="17.06" font-weight="normal" font-style="normal" fill="#000" text-anchor="middle"  textLength="18.2" lengthAdjust="spacingAndGlyphs">20</text>
<line x1="686.4" y1="405" x2="686.4" y2="410.8" stroke="#000" stroke-width="2.6"/>
<line x1="723.7" y1="405" x2="723.7" y2="413.8" stroke="#000" stroke-width="2.6"/>
<text x="723.7" y="431.8" font-size="17.06" font-weight="normal" font-style="normal" fill="#000" text-anchor="middle"  textLength="18.2" lengthAdjust="spacingAndGlyphs">40</text>
<line x1="761.0" y1="405" x2="761.0" y2="410.8" stroke="#000" stroke-width="2.6"/>
<line x1="798.2" y1="405" x2="798.2" y2="413.8" stroke="#000" stroke-width="2.6"/>
<text x="798.2" y="431.8" font-size="17.06" font-weight="normal" font-style="normal" fill="#000" text-anchor="middle"  textLength="18.2" lengthAdjust="spacingAndGlyphs">60</text>
<text x="671.5" y="456.0" font-size="20.28" font-weight="normal" font-style="normal" fill="#000" text-anchor="start"  textLength="65.5" lengthAdjust="spacingAndGlyphs">time (s)</text>
<text transform="translate(534.9,329) rotate(-90)" font-size="21.8" textLength="55.5" lengthAdjust="spacingAndGlyphs"><tspan font-size="17.5">Δ</tspan>F / F</text>
<text transform="translate(543.4,273.4) rotate(-90)" font-size="12.6">0</text>
<polyline points="582.1,400.5 589.5,400.2 597.0,399.9 604.4,399.6 611.9,399.2 619.3,398.9 626.8,398.6 634.2,398.6 641.7,398.3 649.1,398.3 656.6,398.3 664.0,390.6 671.5,369.9 679.0,352.4 686.4,332.7 693.9,318.7 701.3,307.8 708.8,299.2 716.2,292.9 723.7,285.5 731.1,280.4 738.6,276.0 746.0,273.1 753.5,270.6 761.0,268.7 768.4,267.1 775.9,266.1 783.3,265.1 790.8,264.2 798.2,263.6" fill="none" stroke="#0c0ca0" stroke-width="1.6"/>
<path d="M582.1 398.9V402.1M579.7 398.9h4.8M579.7 402.1h4.8M589.5 398.6V401.8M587.1 398.6h4.8M587.1 401.8h4.8M597.0 398.3V401.5M594.6 398.3h4.8M594.6 401.5h4.8M604.4 398.0V401.1M602.0 398.0h4.8M602.0 401.1h4.8M611.9 397.6V400.8M609.5 397.6h4.8M609.5 400.8h4.8M619.3 397.3V400.5M616.9 397.3h4.8M616.9 400.5h4.8M626.8 397.0V400.2M624.4 397.0h4.8M624.4 400.2h4.8M634.2 397.0V400.2M631.8 397.0h4.8M631.8 400.2h4.8M641.7 396.7V399.9M639.3 396.7h4.8M639.3 399.9h4.8M649.1 396.7V399.9M646.7 396.7h4.8M646.7 399.9h4.8M656.6 396.7V399.9M654.2 396.7h4.8M654.2 399.9h4.8M664.0 387.5V393.8M661.6 387.5h4.8M661.6 393.8h4.8M671.5 363.6V376.3M669.1 363.6h4.8M669.1 376.3h4.8M679.0 342.9V362.0M676.6 342.9h4.8M676.6 362.0h4.8M686.4 321.2V344.1M684.0 321.2h4.8M684.0 344.1h4.8M693.9 305.9V331.4M691.5 305.9h4.8M691.5 331.4h4.8M701.3 295.1V320.6M698.9 295.1h4.8M698.9 320.6h4.8M708.8 286.5V312.0M706.4 286.5h4.8M706.4 312.0h4.8M716.2 280.1V305.6M713.8 280.1h4.8M713.8 305.6h4.8M723.7 272.8V298.3M721.3 272.8h4.8M721.3 298.3h4.8M731.1 267.7V293.2M728.7 267.7h4.8M728.7 293.2h4.8M738.6 263.2V288.7M736.2 263.2h4.8M736.2 288.7h4.8M746.0 260.4V285.9M743.6 260.4h4.8M743.6 285.9h4.8M753.5 258.5V282.7M751.1 258.5h4.8M751.1 282.7h4.8M761.0 256.5V280.8M758.6 256.5h4.8M758.6 280.8h4.8M768.4 255.3V278.8M766.0 255.3h4.8M766.0 278.8h4.8M775.9 254.6V277.6M773.5 254.6h4.8M773.5 277.6h4.8M783.3 253.7V276.6M780.9 253.7h4.8M780.9 276.6h4.8M790.8 253.0V275.3M788.4 253.0h4.8M788.4 275.3h4.8M798.2 252.4V274.7M795.8 252.4h4.8M795.8 274.7h4.8" stroke="#0c0ca0" stroke-width="1.3" fill="none"/>
<rect x="578.4" y="396.8" width="7.4" height="7.4" fill="#0c0ca0"/>
<rect x="585.8" y="396.5" width="7.4" height="7.4" fill="#0c0ca0"/>
<rect x="593.3" y="396.2" width="7.4" height="7.4" fill="#0c0ca0"/>
<rect x="600.7" y="395.9" width="7.4" height="7.4" fill="#0c0ca0"/>
<rect x="608.2" y="395.5" width="7.4" height="7.4" fill="#0c0ca0"/>
<rect x="615.6" y="395.2" width="7.4" height="7.4" fill="#0c0ca0"/>
<rect x="623.1" y="394.9" width="7.4" height="7.4" fill="#0c0ca0"/>
<rect x="630.5" y="394.9" width="7.4" height="7.4" fill="#0c0ca0"/>
<rect x="638.0" y="394.6" width="7.4" height="7.4" fill="#0c0ca0"/>
<rect x="645.4" y="394.6" width="7.4" height="7.4" fill="#0c0ca0"/>
<rect x="652.9" y="394.6" width="7.4" height="7.4" fill="#0c0ca0"/>
<rect x="660.3" y="386.9" width="7.4" height="7.4" fill="#0c0ca0"/>
<rect x="667.8" y="366.2" width="7.4" height="7.4" fill="#0c0ca0"/>
<rect x="675.3" y="348.7" width="7.4" height="7.4" fill="#0c0ca0"/>
<rect x="682.7" y="329.0" width="7.4" height="7.4" fill="#0c0ca0"/>
<rect x="690.2" y="315.0" width="7.4" height="7.4" fill="#0c0ca0"/>
<rect x="697.6" y="304.1" width="7.4" height="7.4" fill="#0c0ca0"/>
<rect x="705.1" y="295.5" width="7.4" height="7.4" fill="#0c0ca0"/>
<rect x="712.5" y="289.2" width="7.4" height="7.4" fill="#0c0ca0"/>
<rect x="720.0" y="281.8" width="7.4" height="7.4" fill="#0c0ca0"/>
<rect x="727.4" y="276.7" width="7.4" height="7.4" fill="#0c0ca0"/>
<rect x="734.9" y="272.3" width="7.4" height="7.4" fill="#0c0ca0"/>
<rect x="742.3" y="269.4" width="7.4" height="7.4" fill="#0c0ca0"/>
<rect x="749.8" y="266.9" width="7.4" height="7.4" fill="#0c0ca0"/>
<rect x="757.2" y="265.0" width="7.4" height="7.4" fill="#0c0ca0"/>
<rect x="764.7" y="263.4" width="7.4" height="7.4" fill="#0c0ca0"/>
<rect x="772.2" y="262.4" width="7.4" height="7.4" fill="#0c0ca0"/>
<rect x="779.6" y="261.4" width="7.4" height="7.4" fill="#0c0ca0"/>
<rect x="787.1" y="260.5" width="7.4" height="7.4" fill="#0c0ca0"/>
<rect x="794.5" y="259.9" width="7.4" height="7.4" fill="#0c0ca0"/>
<polyline points="582.1,401.1 589.5,400.8 597.0,400.5 604.4,400.2 611.9,399.6 619.3,399.2 626.8,398.9 634.2,398.6 641.7,398.0 649.1,397.3 656.6,388.1 664.0,346.0 671.5,293.2 679.0,264.2 686.4,254.3 693.9,249.2 701.3,246.4 708.8,244.4 716.2,243.5 723.7,242.2 731.1,241.9 738.6,241.9 746.0,242.2 753.5,242.5 761.0,243.5 768.4,244.4 775.9,245.4 783.3,246.0 790.8,246.7 798.2,247.6" fill="none" stroke="#158015" stroke-width="1.6"/>
<path d="M582.1 399.6V402.7M579.7 399.6h4.8M579.7 402.7h4.8M589.5 399.2V402.4M587.1 399.2h4.8M587.1 402.4h4.8M597.0 398.9V402.1M594.6 398.9h4.8M594.6 402.1h4.8M604.4 398.6V401.8M602.0 398.6h4.8M602.0 401.8h4.8M611.9 398.0V401.1M609.5 398.0h4.8M609.5 401.1h4.8M619.3 397.6V400.8M616.9 397.6h4.8M616.9 400.8h4.8M626.8 397.3V400.5M624.4 397.3h4.8M624.4 400.5h4.8M634.2 397.0V400.2M631.8 397.0h4.8M631.8 400.2h4.8M641.7 396.4V399.6M639.3 396.4h4.8M639.3 399.6h4.8M649.1 395.7V398.9M646.7 395.7h4.8M646.7 398.9h4.8M656.6 385.5V390.6M654.2 385.5h4.8M654.2 390.6h4.8M664.0 339.7V352.4M661.6 339.7h4.8M661.6 352.4h4.8M671.5 283.6V302.7M669.1 283.6h4.8M669.1 302.7h4.8M679.0 254.6V273.7M676.6 254.6h4.8M676.6 273.7h4.8M686.4 244.8V263.9M684.0 244.8h4.8M684.0 263.9h4.8M693.9 239.7V258.8M691.5 239.7h4.8M691.5 258.8h4.8M701.3 236.8V255.9M698.9 236.8h4.8M698.9 255.9h4.8M708.8 234.9V254.0M706.4 234.9h4.8M706.4 254.0h4.8M716.2 233.9V253.0M713.8 233.9h4.8M713.8 253.0h4.8M723.7 232.3V252.1M721.3 232.3h4.8M721.3 252.1h4.8M731.1 232.0V251.8M728.7 232.0h4.8M728.7 251.8h4.8M738.6 232.0V251.8M736.2 232.0h4.8M736.2 251.8h4.8M746.0 232.3V252.1M743.6 232.3h4.8M743.6 252.1h4.8M753.5 233.0V252.1M751.1 233.0h4.8M751.1 252.1h4.8M761.0 233.9V253.0M758.6 233.9h4.8M758.6 253.0h4.8M768.4 234.9V254.0M766.0 234.9h4.8M766.0 254.0h4.8M775.9 235.8V255.0M773.5 235.8h4.8M773.5 255.0h4.8M783.3 236.8V255.3M780.9 236.8h4.8M780.9 255.3h4.8M790.8 237.4V255.9M788.4 237.4h4.8M788.4 255.9h4.8M798.2 238.4V256.9M795.8 238.4h4.8M795.8 256.9h4.8" stroke="#158015" stroke-width="1.3" fill="none"/>
<circle cx="582.1" cy="401.1" r="3.9" fill="#158015"/>
<circle cx="589.5" cy="400.8" r="3.9" fill="#158015"/>
<circle cx="597.0" cy="400.5" r="3.9" fill="#158015"/>
<circle cx="604.4" cy="400.2" r="3.9" fill="#158015"/>
<circle cx="611.9" cy="399.6" r="3.9" fill="#158015"/>
<circle cx="619.3" cy="399.2" r="3.9" fill="#158015"/>
<circle cx="626.8" cy="398.9" r="3.9" fill="#158015"/>
<circle cx="634.2" cy="398.6" r="3.9" fill="#158015"/>
<circle cx="641.7" cy="398.0" r="3.9" fill="#158015"/>
<circle cx="649.1" cy="397.3" r="3.9" fill="#158015"/>
<circle cx="656.6" cy="388.1" r="3.9" fill="#158015"/>
<circle cx="664.0" cy="346.0" r="3.9" fill="#158015"/>
<circle cx="671.5" cy="293.2" r="3.9" fill="#158015"/>
<circle cx="679.0" cy="264.2" r="3.9" fill="#158015"/>
<circle cx="686.4" cy="254.3" r="3.9" fill="#158015"/>
<circle cx="693.9" cy="249.2" r="3.9" fill="#158015"/>
<circle cx="701.3" cy="246.4" r="3.9" fill="#158015"/>
<circle cx="708.8" cy="244.4" r="3.9" fill="#158015"/>
<circle cx="716.2" cy="243.5" r="3.9" fill="#158015"/>
<circle cx="723.7" cy="242.2" r="3.9" fill="#158015"/>
<circle cx="731.1" cy="241.9" r="3.9" fill="#158015"/>
<circle cx="738.6" cy="241.9" r="3.9" fill="#158015"/>
<circle cx="746.0" cy="242.2" r="3.9" fill="#158015"/>
<circle cx="753.5" cy="242.5" r="3.9" fill="#158015"/>
<circle cx="761.0" cy="243.5" r="3.9" fill="#158015"/>
<circle cx="768.4" cy="244.4" r="3.9" fill="#158015"/>
<circle cx="775.9" cy="245.4" r="3.9" fill="#158015"/>
<circle cx="783.3" cy="246.0" r="3.9" fill="#158015"/>
<circle cx="790.8" cy="246.7" r="3.9" fill="#158015"/>
<circle cx="798.2" cy="247.6" r="3.9" fill="#158015"/>
<line x1="584.2" y1="176.8" x2="601.8" y2="176.8" stroke="#0c0ca0" stroke-width="1.9"/><rect x="589.4" y="173" width="7.6" height="7.6" fill="#0c0ca0"/>
<line x1="584.2" y1="196.3" x2="601.8" y2="196.3" stroke="#158015" stroke-width="1.9"/><circle cx="593.2" cy="196.3" r="3.9" fill="#158015"/>
<text x="606.4" y="181.8" font-size="16.02" font-weight="normal" font-style="normal" fill="#000" text-anchor="start"  textLength="100.3" lengthAdjust="spacingAndGlyphs">Citronellal (47)</text>
<text x="606.4" y="201.2" font-size="16.02" font-weight="normal" font-style="normal" fill="#000" text-anchor="start"  textLength="100.3" lengthAdjust="spacingAndGlyphs">Citronellol (66)</text>
<text x="956.5" y="162.7" font-size="18.41" font-weight="normal" font-style="normal" fill="#1a1a62" text-anchor="start"  textLength="179.5" lengthAdjust="spacingAndGlyphs">with 0.1 mM Citronellal</text>
<line x1="865" y1="214.6" x2="982" y2="214.6" stroke="#dc9448" stroke-width="1.7" stroke-dasharray="3.5 2.6"/>
<polyline points="872.5,181.6 872.8,202.0 873.1,181.7 873.4,199.7 873.7,183.3 874.0,214.1 874.3,214.2 874.6,213.0 874.9,214.2 875.2,216.2 875.5,215.9 875.8,213.1 876.1,210.1 876.4,209.1 876.7,197.0 877.0,183.7 877.3,183.7 877.6,202.3 877.9,205.2 878.2,182.7 878.5,180.9 878.8,207.7 879.1,181.7 879.4,180.5 879.7,211.8 880.0,199.4 880.3,182.4 880.6,204.9 880.9,182.6 881.2,205.5 881.5,179.5 881.8,180.4 882.1,185.1 882.4,205.6 882.7,177.4 883.0,198.7 883.3,182.0 883.6,192.8 883.9,195.6 884.2,209.4 884.5,184.8 884.8,183.7 885.1,199.3 885.4,209.7 885.7,195.3 886.0,200.9 886.3,199.4 886.6,202.7 886.9,186.1 887.2,181.1 887.5,181.9 887.8,181.5 888.1,199.0 888.4,204.2 888.7,193.8 889.0,191.3 889.3,198.2 889.6,209.5 889.9,197.8 890.2,192.9 890.5,187.1 890.8,175.6 891.1,196.0 891.4,182.9 891.7,182.6 892.0,182.8 892.3,201.8 892.6,184.9 892.9,198.3 893.2,207.2 893.5,195.1 893.8,181.4 894.1,187.4 894.4,181.8 894.7,182.2 895.0,190.8 895.3,205.4 895.6,182.7 895.9,176.5 896.2,184.3 896.5,194.5 896.8,203.9 897.1,186.3 897.4,179.4 897.7,182.6 898.0,181.3 898.3,183.2 898.6,207.6 898.9,180.0 899.2,199.0 899.5,193.0 899.8,210.1 900.1,182.8 900.4,180.9 900.7,181.0 901.0,190.5 901.3,186.0 901.6,181.6 901.9,177.5 902.2,195.7 902.5,181.8 902.8,215.0 903.1,213.7 903.4,215.6 903.7,216.3 904.0,216.5 904.3,212.7 904.6,215.3 904.9,210.6 905.2,212.0 905.5,210.5 905.8,217.8 906.1,211.7 906.4,213.8 906.7,213.5 907.0,213.8 907.3,212.8 907.6,214.2 907.9,217.8 908.2,213.9 908.5,214.7 908.8,215.5 909.1,213.5 909.4,211.7 909.7,212.9 910.0,215.6 910.3,202.5 910.6,196.3 910.9,182.7 911.2,179.2 911.5,184.7 911.8,180.8 912.1,178.3 912.4,182.0 912.7,176.2 913.0,183.2 913.3,184.2 913.6,181.6 913.9,199.9 914.2,195.5 914.5,185.8 914.8,184.0 915.1,184.6 915.4,209.6 915.7,184.1 916.0,200.9 916.3,199.7 916.6,182.0 916.9,213.2 917.2,214.8 917.5,212.7 917.8,216.3 918.1,215.9 918.4,214.1 918.7,213.5 919.0,203.9 919.3,181.4 919.6,182.2 919.9,191.0 920.2,182.1 920.5,182.1 920.8,183.7 921.1,210.4 921.4,180.5 921.7,205.3 922.0,181.2 922.3,187.8 922.6,185.0 922.9,209.2 923.2,184.9 923.5,180.5 923.8,193.0 924.1,193.7 924.4,194.6 924.7,181.5 925.0,201.2 925.3,195.7 925.6,206.3 925.9,180.7 926.2,181.8 926.5,186.1 926.8,185.3 927.1,214.7 927.4,212.3 927.7,211.2 928.0,213.7 928.3,215.3 928.6,182.0 928.9,197.8 929.2,193.0 929.5,193.8 929.8,208.7 930.1,195.5 930.4,200.3 930.7,211.4 931.0,184.7 931.3,180.4 931.6,198.0 931.9,184.8 932.2,182.3 932.5,196.0 932.8,199.0 933.1,195.3 933.4,182.4 933.7,178.0 934.0,181.5 934.3,211.9 934.6,206.1 934.9,181.8 935.2,181.7 935.5,179.4 935.8,201.7 936.1,210.6 936.4,213.7 936.7,214.9 937.0,218.8 937.3,210.7 937.6,212.0 937.9,212.7 938.2,211.4 938.5,213.9 938.8,214.2 939.1,217.8 939.4,215.0 939.7,216.4 940.0,215.8 940.3,211.6 940.6,212.9 940.9,179.5 941.2,207.8 941.5,182.3 941.8,179.2 942.1,191.8 942.4,206.3 942.7,183.5 943.0,186.4 943.3,180.1 943.6,184.3 943.9,193.4 944.2,206.6 944.5,191.5 944.8,205.0 945.1,201.6 945.4,178.7 945.7,181.0 946.0,211.7 946.3,182.7 946.6,182.1 946.9,194.8 947.2,181.7 947.5,214.3 947.8,216.0 948.1,215.1 948.4,215.4 948.7,217.8 949.0,213.5 949.3,214.7 949.6,212.0 949.9,215.8 950.2,212.1 950.5,214.2 950.8,217.4 951.1,213.4 951.4,201.0 951.7,197.8 952.0,208.7 952.3,186.6 952.6,210.6 952.9,198.4 953.2,212.2 953.5,180.2 953.8,191.2 954.1,210.8 954.4,196.0 954.7,211.3 955.0,182.2 955.3,214.7 955.6,211.6 955.9,217.3 956.2,211.7 956.5,218.8 956.8,213.0 957.1,216.4 957.4,214.6 957.7,211.1 958.0,214.7 958.3,212.9 958.6,212.7 958.9,217.5 959.2,215.0 959.5,215.1 959.8,215.2 960.1,213.0 960.4,184.1 960.7,184.3 961.0,202.5 961.3,194.8 961.6,183.3 961.9,180.5 962.2,182.3 962.5,192.2 962.8,192.2 963.1,182.4 963.4,184.3 963.7,201.7 964.0,197.6 964.3,184.2 964.6,201.3 964.9,196.2 965.2,199.0 965.5,176.2 965.8,184.5 966.1,183.0 966.4,182.4 966.7,198.8 967.0,182.9 967.3,184.6 967.6,192.6 967.9,184.1 968.2,184.9 968.5,181.6 968.8,178.6 969.1,181.6 969.4,210.5 969.7,195.7 970.0,180.5 970.3,201.7 970.6,181.1 970.9,180.9 971.2,214.6 971.5,215.2 971.8,213.9 972.1,209.6 972.4,217.8 972.7,211.6 973.0,211.0 973.3,212.6 973.6,214.0 973.9,213.9 974.2,218.1 974.5,213.4 974.8,212.4 975.1,215.8 975.4,214.1 975.7,213.0 976.0,212.2 976.3,213.7 976.6,216.3 976.9,214.9 977.2,213.2 977.5,215.3 977.8,182.8 978.1,181.6 978.4,180.7 978.7,180.5 979.0,208.3 979.3,182.5 979.6,211.2 979.9,212.7 980.2,213.8" fill="none" stroke="#080808" stroke-width="1.7" stroke-linejoin="round"/>
<text x="997.5" y="202.5" font-size="17.58" font-weight="normal" font-style="normal" fill="#000" text-anchor="start"  textLength="68.5" lengthAdjust="spacingAndGlyphs">+100 mV</text>
<line x1="865" y1="277.7" x2="982" y2="277.7" stroke="#dc9448" stroke-width="1.7" stroke-dasharray="3.5 2.6"/>
<polyline points="872.5,249.9 872.8,252.6 873.1,273.6 873.4,257.1 873.7,252.3 874.0,250.5 874.3,248.1 874.6,259.5 874.9,268.1 875.2,262.9 875.5,261.2 875.8,273.3 876.1,262.5 876.4,255.1 876.7,264.6 877.0,275.3 877.3,274.3 877.6,279.4 877.9,277.3 878.2,278.2 878.5,277.1 878.8,276.6 879.1,274.3 879.4,278.4 879.7,276.8 880.0,279.8 880.3,277.4 880.6,276.9 880.9,277.9 881.2,276.2 881.5,276.7 881.8,273.4 882.1,276.1 882.4,277.9 882.7,278.9 883.0,276.2 883.3,276.6 883.6,279.3 883.9,276.3 884.2,278.0 884.5,254.7 884.8,249.4 885.1,264.7 885.4,249.1 885.7,263.9 886.0,248.4 886.3,251.1 886.6,248.4 886.9,251.7 887.2,261.9 887.5,259.7 887.8,253.6 888.1,266.1 888.4,273.7 888.7,257.7 889.0,265.1 889.3,263.6 889.6,245.9 889.9,246.9 890.2,244.6 890.5,266.3 890.8,240.8 891.1,258.9 891.4,251.6 891.7,273.9 892.0,248.0 892.3,250.0 892.6,255.1 892.9,252.2 893.2,251.5 893.5,258.3 893.8,273.6 894.1,271.7 894.4,245.6 894.7,249.0 895.0,266.8 895.3,258.7 895.6,260.7 895.9,256.4 896.2,268.3 896.5,270.4 896.8,278.1 897.1,276.2 897.4,276.6 897.7,278.1 898.0,277.8 898.3,274.6 898.6,276.1 898.9,250.9 899.2,250.3 899.5,248.7 899.8,266.3 900.1,247.2 900.4,251.9 900.7,247.9 901.0,256.3 901.3,252.0 901.6,247.4 901.9,256.4 902.2,246.9 902.5,267.3 902.8,265.2 903.1,250.9 903.4,251.4 903.7,252.2 904.0,251.6 904.3,277.1 904.6,277.6 904.9,280.9 905.2,275.3 905.5,276.3 905.8,276.9 906.1,278.2 906.4,276.1 906.7,278.6 907.0,275.5 907.3,277.2 907.6,276.0 907.9,279.8 908.2,275.7 908.5,274.2 908.8,278.5 909.1,277.3 909.4,275.9 909.7,277.1 910.0,278.4 910.3,260.6 910.6,248.9 910.9,250.0 911.2,248.7 911.5,266.9 911.8,250.7 912.1,247.4 912.4,247.3 912.7,245.1 913.0,251.4 913.3,253.7 913.6,269.8 913.9,264.6 914.2,258.5 914.5,248.0 914.8,249.9 915.1,269.3 915.4,250.5 915.7,248.2 916.0,273.2 916.3,253.4 916.6,254.1 916.9,250.1 917.2,247.4 917.5,270.3 917.8,247.4 918.1,252.0 918.4,272.2 918.7,265.2 919.0,255.1 919.3,249.9 919.6,256.8 919.9,250.1 920.2,251.0 920.5,250.8 920.8,265.7 921.1,275.8 921.4,275.7 921.7,278.2 922.0,275.3 922.3,273.9 922.6,275.2 922.9,280.8 923.2,279.9 923.5,275.7 923.8,275.6 924.1,277.2 924.4,246.9 924.7,246.6 925.0,247.9 925.3,278.0 925.6,279.2 925.9,279.6 926.2,277.7 926.5,276.7 926.8,279.1 927.1,278.9 927.4,276.6 927.7,276.1 928.0,275.6 928.3,277.2 928.6,276.8 928.9,278.1 929.2,278.6 929.5,279.8 929.8,277.6 930.1,277.5 930.4,276.3 930.7,277.1 931.0,279.1 931.3,276.9 931.6,276.8 931.9,276.3 932.2,277.4 932.5,276.1 932.8,277.7 933.1,275.0 933.4,275.7 933.7,277.4 934.0,278.9 934.3,275.9 934.6,249.6 934.9,267.6 935.2,251.1 935.5,256.4 935.8,246.1 936.1,246.6 936.4,248.2 936.7,272.3 937.0,265.7 937.3,270.1 937.6,266.0 937.9,267.0 938.2,248.7 938.5,261.7 938.8,257.0 939.1,253.6 939.4,271.3 939.7,249.2 940.0,245.7 940.3,256.9 940.6,269.6 940.9,247.2 941.2,266.1 941.5,244.1 941.8,267.7 942.1,251.5 942.4,243.8 942.7,249.8 943.0,254.6 943.3,260.5 943.6,255.1 943.9,245.9 944.2,245.7 944.5,243.3 944.8,250.5 945.1,244.6 945.4,260.0 945.7,248.4 946.0,256.7 946.3,258.7 946.6,256.9 946.9,247.7 947.2,245.1 947.5,270.8 947.8,251.0 948.1,250.2 948.4,248.6 948.7,258.2 949.0,271.3 949.3,251.0 949.6,274.7 949.9,275.9 950.2,275.8 950.5,277.4 950.8,277.2 951.1,276.9 951.4,275.7 951.7,276.1 952.0,278.3 952.3,278.0 952.6,277.0 952.9,261.9 953.2,254.3 953.5,243.1 953.8,263.6 954.1,268.8 954.4,251.4 954.7,270.8 955.0,256.2 955.3,250.9 955.6,264.9 955.9,265.0 956.2,271.0 956.5,260.0 956.8,257.0 957.1,247.8 957.4,270.3 957.7,247.5 958.0,263.3 958.3,272.1 958.6,243.8 958.9,248.7 959.2,272.0 959.5,249.7 959.8,252.8 960.1,262.0 960.4,271.2 960.7,264.0 961.0,244.8 961.3,247.8 961.6,248.5 961.9,268.7 962.2,251.4 962.5,262.0 962.8,250.8 963.1,273.6 963.4,251.7 963.7,263.0 964.0,254.2 964.3,250.7 964.6,274.3 964.9,277.6 965.2,279.0 965.5,277.7 965.8,277.5 966.1,276.5 966.4,270.3 966.7,248.0 967.0,245.8 967.3,252.0 967.6,252.7 967.9,252.1 968.2,247.4 968.5,247.3 968.8,250.4 969.1,250.0 969.4,244.4 969.7,267.4 970.0,263.7 970.3,250.3 970.6,263.7 970.9,245.0 971.2,250.5 971.5,251.1 971.8,248.4 972.1,246.5 972.4,278.0 972.7,278.7 973.0,277.3 973.3,278.3 973.6,279.2 973.9,266.4 974.2,247.9 974.5,248.5 974.8,245.5 975.1,246.0 975.4,268.4 975.7,273.8 976.0,257.2 976.3,263.7 976.6,252.5 976.9,260.2 977.2,246.5 977.5,270.5 977.8,260.0 978.1,253.1 978.4,253.3 978.7,274.8 979.0,279.8 979.3,277.4 979.6,280.9 979.9,275.4 980.2,278.6" fill="none" stroke="#080808" stroke-width="1.7" stroke-linejoin="round"/>
<text x="997.5" y="262.0" font-size="17.58" font-weight="normal" font-style="normal" fill="#000" text-anchor="start"  textLength="59.0" lengthAdjust="spacingAndGlyphs">+80 mV</text>
<line x1="868" y1="327.8" x2="982" y2="327.8" stroke="#dc9448" stroke-width="1.7" stroke-dasharray="3.5 2.6"/>
<polyline points="872.5,327.9 872.8,325.0 873.1,326.0 873.4,327.2 873.7,326.4 874.0,326.8 874.3,327.6 874.6,326.0 874.9,327.6 875.2,326.2 875.5,326.3 875.8,327.6 876.1,326.3 876.4,327.3 876.7,328.9 877.0,327.0 877.3,326.8 877.6,327.9 877.9,326.6 878.2,328.3 878.5,308.4 878.8,313.0 879.1,325.1 879.4,309.5 879.7,311.8 880.0,310.2 880.3,311.9 880.6,311.5 880.9,318.7 881.2,312.6 881.5,310.7 881.8,327.6 882.1,327.2 882.4,326.3 882.7,328.3 883.0,326.0 883.3,327.3 883.6,325.3 883.9,328.7 884.2,325.7 884.5,327.4 884.8,326.3 885.1,326.5 885.4,325.6 885.7,326.9 886.0,325.7 886.3,328.1 886.6,326.0 886.9,326.9 887.2,327.9 887.5,327.9 887.8,328.1 888.1,328.3 888.4,319.0 888.7,327.9 889.0,328.1 889.3,325.5 889.6,327.0 889.9,327.1 890.2,326.9 890.5,327.7 890.8,325.9 891.1,325.4 891.4,310.1 891.7,309.7 892.0,323.1 892.3,311.1 892.6,311.1 892.9,313.5 893.2,310.6 893.5,323.9 893.8,312.0 894.1,309.0 894.4,315.6 894.7,325.0 895.0,326.7 895.3,327.3 895.6,328.2 895.9,325.7 896.2,327.7 896.5,327.5 896.8,326.1 897.1,327.6 897.4,325.9 897.7,326.0 898.0,327.0 898.3,321.0 898.6,326.9 898.9,325.8 899.2,325.2 899.5,326.5 899.8,327.9 900.1,326.5 900.4,328.5 900.7,325.6 901.0,325.4 901.3,328.9 901.6,327.5 901.9,328.1 902.2,326.0 902.5,328.0 902.8,327.3 903.1,327.8 903.4,311.6 903.7,308.8 904.0,309.3 904.3,309.0 904.6,302.0 904.9,323.4 905.2,309.4 905.5,327.0 905.8,326.4 906.1,327.1 906.4,327.3 906.7,327.4 907.0,324.4 907.3,326.4 907.6,326.0 907.9,327.9 908.2,325.1 908.5,326.1 908.8,326.6 909.1,326.6 909.4,328.2 909.7,326.5 910.0,328.2 910.3,325.2 910.6,324.8 910.9,328.5 911.2,327.5 911.5,327.6 911.8,327.1 912.1,327.6 912.4,325.5 912.7,328.1 913.0,326.4 913.3,328.2 913.6,327.1 913.9,324.6 914.2,325.5 914.5,328.4 914.8,326.8 915.1,326.5 915.4,327.3 915.7,326.5 916.0,326.3 916.3,327.1 916.6,327.2 916.9,328.8 917.2,327.1 917.5,329.3 917.8,329.2 918.1,329.1 918.4,328.3 918.7,327.2 919.0,327.2 919.3,326.8 919.6,326.1 919.9,326.9 920.2,326.2 920.5,329.0 920.8,327.6 921.1,326.5 921.4,324.7 921.7,326.9 922.0,326.5 922.3,325.7 922.6,325.6 922.9,324.3 923.2,327.7 923.5,326.9 923.8,330.1 924.1,327.0 924.4,326.8 924.7,328.7 925.0,327.2 925.3,327.2 925.6,326.6 925.9,326.3 926.2,328.8 926.5,328.2 926.8,329.1 927.1,326.6 927.4,327.0 927.7,325.9 928.0,328.2 928.3,325.3 928.6,327.7 928.9,328.3 929.2,328.7 929.5,325.9 929.8,328.3 930.1,326.1 930.4,326.1 930.7,325.4 931.0,328.4 931.3,329.0 931.6,326.3 931.9,326.1 932.2,326.6 932.5,330.0 932.8,328.2 933.1,326.3 933.4,324.8 933.7,326.2 934.0,328.4 934.3,329.2 934.6,326.7 934.9,326.2 935.2,310.3 935.5,313.3 935.8,310.0 936.1,316.2 936.4,320.7 936.7,307.7 937.0,325.2 937.3,327.9 937.6,324.8 937.9,326.1 938.2,326.6 938.5,328.3 938.8,325.2 939.1,325.9 939.4,324.6 939.7,326.7 940.0,327.4 940.3,325.0 940.6,326.3 940.9,327.6 941.2,328.9 941.5,313.1 941.8,310.8 942.1,324.3 942.4,311.9 942.7,310.5 943.0,311.8 943.3,311.8 943.6,314.6 943.9,308.8 944.2,318.2 944.5,313.1 944.8,314.9 945.1,316.6 945.4,313.2 945.7,310.7 946.0,312.3 946.3,313.3 946.6,314.2 946.9,312.1 947.2,311.6 947.5,324.6 947.8,311.8 948.1,328.9 948.4,326.3 948.7,328.3 949.0,324.2 949.3,327.0 949.6,318.1 949.9,312.2 950.2,311.9 950.5,305.9 950.8,322.6 951.1,310.5 951.4,322.3 951.7,325.1 952.0,324.7 952.3,326.4 952.6,326.0 952.9,310.2 953.2,312.0 953.5,320.0 953.8,312.2 954.1,297.0 954.4,308.9 954.7,317.7 955.0,305.9 955.3,298.0 955.6,310.2 955.9,317.5 956.2,312.8 956.5,323.5 956.8,298.0 957.1,311.7 957.4,326.3 957.7,321.0 958.0,326.2 958.3,313.3 958.6,308.7 958.9,327.6 959.2,325.8 959.5,326.5 959.8,326.5 960.1,327.1 960.4,312.3 960.7,305.0 961.0,320.6 961.3,312.6 961.6,313.1 961.9,312.9 962.2,313.9 962.5,329.5 962.8,329.2 963.1,329.4 963.4,327.9 963.7,326.6 964.0,326.3 964.3,318.3 964.6,311.8 964.9,320.0 965.2,319.3 965.5,312.2 965.8,326.8 966.1,315.8 966.4,316.2 966.7,320.9 967.0,308.9 967.3,318.1 967.6,314.6 967.9,317.1 968.2,310.0 968.5,322.8 968.8,311.6 969.1,316.9 969.4,308.6 969.7,325.4 970.0,328.0 970.3,329.1 970.6,327.7 970.9,325.8 971.2,315.5 971.5,311.1 971.8,311.5 972.1,325.2 972.4,310.1 972.7,327.6 973.0,328.0 973.3,326.9 973.6,326.9 973.9,308.9 974.2,323.9 974.5,313.5 974.8,307.1 975.1,325.6 975.4,314.2 975.7,307.0 976.0,311.6 976.3,318.1 976.6,318.9 976.9,323.7 977.2,316.3 977.5,308.9 977.8,309.7 978.1,315.4 978.4,317.5 978.7,317.5 979.0,311.6 979.3,328.0 979.6,328.2 979.9,327.4 980.2,326.5" fill="none" stroke="#080808" stroke-width="1.7" stroke-linejoin="round"/>
<text x="997.8" y="324.7" font-size="17.58" font-weight="normal" font-style="normal" fill="#000" text-anchor="start"  textLength="59.5" lengthAdjust="spacingAndGlyphs">+60 mV</text>
<line x1="868" y1="380.2" x2="982" y2="380.2" stroke="#dc9448" stroke-width="1.7" stroke-dasharray="3.5 2.6"/>
<polyline points="872.5,378.2 872.8,367.1 873.1,367.0 873.4,369.0 873.7,365.5 874.0,373.5 874.3,367.3 874.6,369.4 874.9,370.3 875.2,375.7 875.5,374.9 875.8,367.2 876.1,375.0 876.4,369.4 876.7,368.9 877.0,379.7 877.3,380.1 877.6,376.7 877.9,378.1 878.2,377.9 878.5,376.7 878.8,377.0 879.1,367.8 879.4,369.8 879.7,368.1 880.0,369.8 880.3,367.8 880.6,376.3 880.9,375.3 881.2,367.6 881.5,373.9 881.8,368.7 882.1,375.9 882.4,369.1 882.7,366.7 883.0,377.3 883.3,378.1 883.6,380.0 883.9,378.5 884.2,378.7 884.5,379.3 884.8,380.5 885.1,379.9 885.4,381.1 885.7,378.4 886.0,380.7 886.3,380.8 886.6,379.7 886.9,380.2 887.2,378.9 887.5,378.2 887.8,379.1 888.1,378.8 888.4,383.2 888.7,379.0 889.0,381.7 889.3,379.9 889.6,380.0 889.9,380.5 890.2,378.6 890.5,380.7 890.8,380.1 891.1,377.7 891.4,380.4 891.7,380.3 892.0,380.2 892.3,381.6 892.6,379.1 892.9,380.2 893.2,380.5 893.5,378.5 893.8,381.1 894.1,377.8 894.4,378.0 894.7,380.3 895.0,378.2 895.3,379.5 895.6,377.5 895.9,366.6 896.2,366.5 896.5,368.7 896.8,379.3 897.1,381.7 897.4,379.7 897.7,378.3 898.0,378.8 898.3,381.2 898.6,379.2 898.9,377.7 899.2,380.7 899.5,380.8 899.8,378.4 900.1,378.6 900.4,380.5 900.7,377.7 901.0,380.1 901.3,379.3 901.6,380.8 901.9,378.4 902.2,377.9 902.5,369.1 902.8,374.0 903.1,369.2 903.4,379.0 903.7,365.6 904.0,370.5 904.3,368.5 904.6,371.9 904.9,378.3 905.2,379.0 905.5,381.5 905.8,378.6 906.1,375.3 906.4,378.5 906.7,378.1 907.0,379.4 907.3,379.1 907.6,378.5 907.9,378.5 908.2,380.9 908.5,377.8 908.8,382.0 909.1,378.9 909.4,378.2 909.7,380.6 910.0,380.3 910.3,378.3 910.6,380.5 910.9,377.3 911.2,378.4 911.5,381.0 911.8,379.3 912.1,378.0 912.4,380.2 912.7,380.7 913.0,379.6 913.3,377.3 913.6,379.2 913.9,380.1 914.2,380.6 914.5,381.9 914.8,379.3 915.1,379.0 915.4,379.6 915.7,381.1 916.0,378.4 916.3,381.2 916.6,376.2 916.9,380.6 917.2,378.8 917.5,380.2 917.8,380.5 918.1,378.1 918.4,379.5 918.7,379.9 919.0,380.3 919.3,378.4 919.6,378.4 919.9,377.2 920.2,382.8 920.5,379.4 920.8,379.3 921.1,377.7 921.4,380.8 921.7,378.9 922.0,381.4 922.3,380.7 922.6,379.6 922.9,373.6 923.2,378.2 923.5,379.2 923.8,378.9 924.1,378.0 924.4,379.6 924.7,379.4 925.0,381.4 925.3,375.4 925.6,378.8 925.9,378.5 926.2,379.0 926.5,368.7 926.8,372.4 927.1,368.9 927.4,369.6 927.7,377.8 928.0,379.2 928.3,378.7 928.6,381.4 928.9,379.1 929.2,380.2 929.5,379.5 929.8,368.7 930.1,367.0 930.4,372.0 930.7,369.5 931.0,366.9 931.3,378.9 931.6,379.0 931.9,382.4 932.2,380.4 932.5,380.3 932.8,378.7 933.1,381.5 933.4,378.2 933.7,379.0 934.0,381.2 934.3,381.0 934.6,379.2 934.9,380.5 935.2,379.3 935.5,378.1 935.8,374.0 936.1,369.2 936.4,372.9 936.7,367.5 937.0,376.1 937.3,374.8 937.6,372.5 937.9,373.1 938.2,373.5 938.5,372.8 938.8,368.6 939.1,369.0 939.4,380.1 939.7,380.5 940.0,380.6 940.3,380.8 940.6,377.7 940.9,380.2 941.2,380.6 941.5,379.4 941.8,378.4 942.1,380.4 942.4,379.4 942.7,381.0 943.0,379.2 943.3,379.8 943.6,381.0 943.9,380.9 944.2,381.0 944.5,379.4 944.8,382.3 945.1,378.6 945.4,379.0 945.7,379.6 946.0,381.3 946.3,380.2 946.6,382.1 946.9,380.7 947.2,380.6 947.5,378.6 947.8,379.3 948.1,368.3 948.4,366.7 948.7,373.0 949.0,369.4 949.3,376.1 949.6,381.3 949.9,365.6 950.2,380.7 950.5,379.5 950.8,380.0 951.1,379.3 951.4,380.4 951.7,381.0 952.0,381.0 952.3,367.8 952.6,369.5 952.9,373.8 953.2,377.0 953.5,379.0 953.8,378.6 954.1,371.6 954.4,380.6 954.7,379.3 955.0,378.7 955.3,380.3 955.6,378.6 955.9,379.1 956.2,379.0 956.5,381.7 956.8,381.4 957.1,379.4 957.4,377.6 957.7,379.9 958.0,379.7 958.3,380.0 958.6,380.3 958.9,379.2 959.2,380.8 959.5,380.6 959.8,379.9 960.1,379.1 960.4,379.0 960.7,380.5 961.0,378.2 961.3,379.4 961.6,378.7 961.9,377.9 962.2,380.4 962.5,379.6 962.8,379.6 963.1,380.7 963.4,377.7 963.7,379.5 964.0,380.0 964.3,380.6 964.6,378.2 964.9,380.5 965.2,379.9 965.5,381.3 965.8,381.0 966.1,380.3 966.4,382.3 966.7,379.6 967.0,379.1 967.3,379.2 967.6,378.4 967.9,379.6 968.2,377.3 968.5,379.5 968.8,380.1 969.1,380.8 969.4,379.2 969.7,381.3 970.0,378.8 970.3,379.4 970.6,377.3 970.9,378.6 971.2,378.6 971.5,381.4 971.8,380.2 972.1,378.3 972.4,380.3 972.7,380.2 973.0,379.3 973.3,379.6 973.6,379.2 973.9,378.9 974.2,377.4 974.5,379.5 974.8,381.2 975.1,381.3 975.4,379.3 975.7,378.7 976.0,379.3 976.3,380.7 976.6,380.0 976.9,378.9 977.2,380.0 977.5,379.3 977.8,380.2 978.1,379.1 978.4,377.8 978.7,379.7 979.0,380.5 979.3,378.2 979.6,379.5 979.9,380.7 980.2,379.1" fill="none" stroke="#080808" stroke-width="1.9" stroke-linejoin="round"/>
<text x="997.8" y="381.2" font-size="17.58" font-weight="normal" font-style="normal" fill="#000" text-anchor="start"  textLength="59.5" lengthAdjust="spacingAndGlyphs">+40 mV</text>
<line x1="868" y1="427.6" x2="982" y2="427.6" stroke="#dc9448" stroke-width="1.7" stroke-dasharray="3.5 2.6"/>
<polyline points="872.5,426.1 872.8,429.0 873.1,427.7 873.4,427.9 873.7,425.8 874.0,428.5 874.3,425.0 874.6,426.2 874.9,427.6 875.2,428.2 875.5,425.8 875.8,426.1 876.1,427.0 876.4,424.7 876.7,427.5 877.0,427.4 877.3,426.3 877.6,427.4 877.9,427.6 878.2,427.1 878.5,427.4 878.8,428.4 879.1,426.3 879.4,427.0 879.7,418.8 880.0,421.9 880.3,422.1 880.6,425.3 880.9,424.1 881.2,419.2 881.5,426.4 881.8,420.3 882.1,417.8 882.4,422.8 882.7,419.4 883.0,419.5 883.3,419.1 883.6,419.9 883.9,419.8 884.2,419.1 884.5,425.9 884.8,423.5 885.1,418.5 885.4,421.8 885.7,418.1 886.0,426.2 886.3,426.1 886.6,424.5 886.9,428.0 887.2,426.4 887.5,426.2 887.8,426.8 888.1,426.4 888.4,428.2 888.7,428.3 889.0,427.6 889.3,427.4 889.6,427.8 889.9,427.3 890.2,426.7 890.5,427.9 890.8,427.1 891.1,427.4 891.4,428.4 891.7,428.9 892.0,426.8 892.3,428.0 892.6,425.3 892.9,426.0 893.2,427.2 893.5,426.1 893.8,418.4 894.1,418.8 894.4,420.1 894.7,423.9 895.0,419.0 895.3,423.2 895.6,419.8 895.9,421.2 896.2,418.9 896.5,420.5 896.8,426.4 897.1,428.3 897.4,427.4 897.7,426.1 898.0,426.2 898.3,424.3 898.6,425.6 898.9,425.2 899.2,427.0 899.5,426.5 899.8,427.8 900.1,427.0 900.4,426.6 900.7,427.4 901.0,428.3 901.3,426.4 901.6,427.0 901.9,426.2 902.2,425.9 902.5,425.8 902.8,426.2 903.1,425.4 903.4,426.5 903.7,426.4 904.0,427.1 904.3,427.8 904.6,428.9 904.9,426.3 905.2,426.6 905.5,427.3 905.8,426.2 906.1,427.9 906.4,427.6 906.7,426.8 907.0,428.1 907.3,426.1 907.6,426.5 907.9,426.3 908.2,426.6 908.5,425.3 908.8,426.7 909.1,427.8 909.4,427.3 909.7,427.9 910.0,427.3 910.3,427.7 910.6,425.7 910.9,426.8 911.2,417.8 911.5,420.7 911.8,426.6 912.1,425.0 912.4,426.1 912.7,428.0 913.0,428.2 913.3,427.6 913.6,427.1 913.9,426.7 914.2,426.9 914.5,426.2 914.8,426.4 915.1,426.3 915.4,428.4 915.7,424.7 916.0,427.8 916.3,425.2 916.6,425.3 916.9,424.5 917.2,425.9 917.5,427.3 917.8,426.3 918.1,426.8 918.4,425.8 918.7,426.9 919.0,425.1 919.3,427.1 919.6,426.3 919.9,425.5 920.2,428.1 920.5,428.5 920.8,426.2 921.1,428.2 921.4,427.2 921.7,427.9 922.0,427.6 922.3,427.0 922.6,426.3 922.9,428.3 923.2,426.1 923.5,426.8 923.8,427.5 924.1,424.8 924.4,427.5 924.7,426.3 925.0,426.5 925.3,427.3 925.6,426.9 925.9,427.0 926.2,426.1 926.5,425.9 926.8,426.5 927.1,426.4 927.4,425.8 927.7,428.2 928.0,428.6 928.3,425.2 928.6,426.4 928.9,427.8 929.2,424.3 929.5,427.8 929.8,426.9 930.1,427.6 930.4,427.9 930.7,428.2 931.0,425.4 931.3,427.5 931.6,427.0 931.9,427.5 932.2,425.3 932.5,425.8 932.8,427.6 933.1,428.0 933.4,428.6 933.7,425.0 934.0,428.2 934.3,426.5 934.6,426.5 934.9,418.8 935.2,427.5 935.5,428.0 935.8,425.9 936.1,427.4 936.4,427.0 936.7,426.0 937.0,427.7 937.3,425.8 937.6,426.3 937.9,426.7 938.2,426.9 938.5,425.9 938.8,426.3 939.1,428.0 939.4,427.0 939.7,427.1 940.0,426.8 940.3,427.8 940.6,428.1 940.9,426.7 941.2,427.7 941.5,425.9 941.8,426.8 942.1,425.6 942.4,426.2 942.7,430.1 943.0,425.9 943.3,418.8 943.6,427.1 943.9,427.1 944.2,424.6 944.5,427.0 944.8,425.3 945.1,426.1 945.4,426.0 945.7,426.4 946.0,428.7 946.3,428.6 946.6,424.9 946.9,426.4 947.2,425.9 947.5,427.0 947.8,425.0 948.1,425.2 948.4,426.7 948.7,426.0 949.0,427.9 949.3,420.8 949.6,427.0 949.9,426.3 950.2,427.6 950.5,428.1 950.8,426.7 951.1,426.2 951.4,427.4 951.7,426.9 952.0,427.8 952.3,426.9 952.6,426.9 952.9,427.6 953.2,425.9 953.5,425.5 953.8,427.3 954.1,426.6 954.4,427.4 954.7,427.7 955.0,427.2 955.3,420.8 955.6,428.5 955.9,424.3 956.2,426.0 956.5,425.5 956.8,428.9 957.1,426.4 957.4,426.6 957.7,427.4 958.0,428.1 958.3,427.8 958.6,426.7 958.9,427.0 959.2,425.7 959.5,427.1 959.8,426.5 960.1,424.5 960.4,427.0 960.7,426.7 961.0,427.6 961.3,427.5 961.6,418.8 961.9,426.6 962.2,428.5 962.5,427.0 962.8,427.9 963.1,427.3 963.4,428.2 963.7,427.8 964.0,425.6 964.3,427.4 964.6,428.5 964.9,428.3 965.2,426.5 965.5,428.6 965.8,427.8 966.1,427.5 966.4,426.1 966.7,427.3 967.0,421.8 967.3,424.6 967.6,426.3 967.9,425.2 968.2,424.9 968.5,427.0 968.8,427.8 969.1,426.8 969.4,425.2 969.7,425.4 970.0,427.7 970.3,426.6 970.6,427.1 970.9,426.5 971.2,427.0 971.5,426.1 971.8,426.1 972.1,425.3 972.4,418.8 972.7,426.7 973.0,428.0 973.3,429.3 973.6,427.0 973.9,423.8 974.2,425.5 974.5,428.2 974.8,427.3 975.1,426.6 975.4,425.8 975.7,427.3 976.0,427.2 976.3,428.0 976.6,428.3 976.9,428.5 977.2,427.9 977.5,425.6 977.8,427.4 978.1,425.6 978.4,426.1 978.7,426.0 979.0,425.6 979.3,425.9 979.6,428.4 979.9,426.7 980.2,428.5" fill="none" stroke="#080808" stroke-width="2.0" stroke-linejoin="round"/>
<text x="997.8" y="430.7" font-size="17.58" font-weight="normal" font-style="normal" fill="#000" text-anchor="start"  textLength="59.5" lengthAdjust="spacingAndGlyphs">+20 mV</text>
<line x1="1077" y1="174.8" x2="1191" y2="174.8" stroke="#dc9448" stroke-width="1.7" stroke-dasharray="3.5 2.6"/>
<polyline points="1078.5,176.2 1078.8,202.0 1079.1,202.0 1079.4,178.1 1079.7,177.4 1080.0,175.8 1080.3,175.7 1080.6,177.6 1080.9,176.6 1081.2,175.7 1081.5,177.5 1081.8,176.1 1082.1,174.7 1082.4,174.1 1082.7,173.5 1083.0,179.0 1083.3,176.3 1083.6,178.2 1083.9,176.3 1084.2,176.2 1084.5,176.3 1084.8,176.3 1085.1,174.3 1085.4,176.0 1085.7,177.3 1086.0,178.8 1086.3,175.5 1086.6,176.6 1086.9,176.9 1087.2,177.9 1087.5,176.7 1087.8,175.6 1088.1,178.2 1088.4,176.4 1088.7,176.2 1089.0,179.7 1089.3,174.2 1089.6,176.0 1089.9,174.7 1090.2,177.9 1090.5,174.9 1090.8,176.3 1091.1,176.5 1091.4,175.6 1091.7,176.0 1092.0,175.5 1092.3,175.2 1092.6,175.0 1092.9,176.3 1093.2,175.7 1093.5,174.8 1093.8,175.5 1094.1,178.7 1094.4,209.1 1094.7,216.0 1095.0,210.7 1095.3,212.0 1095.6,177.0 1095.9,175.1 1096.2,176.4 1096.5,176.6 1096.8,178.1 1097.1,175.3 1097.4,210.4 1097.7,213.7 1098.0,211.9 1098.3,210.7 1098.6,211.4 1098.9,215.3 1099.2,208.2 1099.5,175.8 1099.8,178.2 1100.1,172.0 1100.4,175.0 1100.7,175.3 1101.0,177.3 1101.3,176.6 1101.6,175.5 1101.9,175.3 1102.2,174.4 1102.5,174.4 1102.8,176.5 1103.1,176.7 1103.4,175.4 1103.7,176.9 1104.0,175.2 1104.3,176.5 1104.6,173.5 1104.9,177.1 1105.2,178.4 1105.5,177.1 1105.8,176.0 1106.1,176.6 1106.4,201.0 1106.7,176.2 1107.0,176.0 1107.3,176.6 1107.6,175.6 1107.9,175.9 1108.2,175.4 1108.5,177.0 1108.8,177.7 1109.1,177.0 1109.4,176.6 1109.7,177.8 1110.0,175.0 1110.3,178.7 1110.6,173.5 1110.9,176.9 1111.2,176.2 1111.5,176.5 1111.8,174.1 1112.1,177.5 1112.4,176.4 1112.7,176.2 1113.0,177.4 1113.3,176.2 1113.6,176.2 1113.9,177.1 1114.2,175.9 1114.5,176.5 1114.8,175.5 1115.1,175.3 1115.4,176.1 1115.7,175.3 1116.0,176.4 1116.3,175.7 1116.6,175.3 1116.9,175.9 1117.2,174.5 1117.5,176.9 1117.8,176.8 1118.1,173.1 1118.4,176.1 1118.7,175.5 1119.0,176.7 1119.3,178.6 1119.6,175.5 1119.9,175.9 1120.2,175.0 1120.5,176.5 1120.8,176.9 1121.1,176.4 1121.4,176.2 1121.7,174.7 1122.0,175.9 1122.3,174.8 1122.6,175.6 1122.9,178.0 1123.2,176.1 1123.5,175.1 1123.8,174.7 1124.1,174.1 1124.4,175.4 1124.7,169.0 1125.0,175.7 1125.3,175.7 1125.6,174.7 1125.9,175.4 1126.2,177.2 1126.5,177.3 1126.8,175.8 1127.1,175.0 1127.4,176.9 1127.7,178.9 1128.0,179.6 1128.3,177.8 1128.6,176.1 1128.9,176.9 1129.2,175.6 1129.5,175.0 1129.8,175.2 1130.1,176.1 1130.4,176.9 1130.7,177.9 1131.0,177.7 1131.3,176.6 1131.6,173.2 1131.9,177.9 1132.2,176.6 1132.5,212.0 1132.8,212.0 1133.1,174.9 1133.4,175.7 1133.7,176.1 1134.0,176.0 1134.3,175.9 1134.6,173.5 1134.9,174.3 1135.2,175.9 1135.5,176.9 1135.8,176.0 1136.1,174.5 1136.4,174.4 1136.7,174.5 1137.0,177.4 1137.3,174.8 1137.6,177.0 1137.9,174.5 1138.2,174.7 1138.5,175.2 1138.8,177.6 1139.1,175.1 1139.4,175.8 1139.7,175.2 1140.0,171.0 1140.3,177.2 1140.6,175.2 1140.9,175.7 1141.2,174.4 1141.5,175.1 1141.8,176.1 1142.1,177.9 1142.4,178.3 1142.7,174.4 1143.0,175.7 1143.3,173.7 1143.6,175.6 1143.9,176.1 1144.2,176.8 1144.5,176.6 1144.8,174.7 1145.1,174.5 1145.4,174.1 1145.7,178.1 1146.0,174.4 1146.3,177.2 1146.6,176.3 1146.9,177.2 1147.2,173.9 1147.5,176.5 1147.8,176.5 1148.1,176.0 1148.4,176.6 1148.7,174.5 1149.0,177.8 1149.3,174.6 1149.6,175.8 1149.9,177.1 1150.2,176.7 1150.5,178.0 1150.8,176.0 1151.1,174.6 1151.4,176.5 1151.7,176.7 1152.0,173.9 1152.3,177.2 1152.6,177.6 1152.9,174.9 1153.2,177.2 1153.5,176.1 1153.8,177.2 1154.1,175.3 1154.4,177.1 1154.7,176.9 1155.0,176.1 1155.3,175.6 1155.6,175.8 1155.9,176.9 1156.2,177.9 1156.5,175.8 1156.8,177.1 1157.1,176.1 1157.4,178.5 1157.7,177.6 1158.0,177.0 1158.3,176.6 1158.6,175.3 1158.9,174.0 1159.2,177.1 1159.5,175.1 1159.8,175.2 1160.1,214.6 1160.4,212.7 1160.7,209.3 1161.0,214.9 1161.3,211.3 1161.6,214.5 1161.9,209.3 1162.2,174.1 1162.5,214.0 1162.8,177.0 1163.1,173.4 1163.4,209.3 1163.7,214.4 1164.0,218.2 1164.3,175.7 1164.6,174.8 1164.9,175.4 1165.2,175.0 1165.5,178.0 1165.8,176.9 1166.1,174.8 1166.4,177.1 1166.7,206.6 1167.0,218.0 1167.3,176.0 1167.6,175.7 1167.9,174.8 1168.2,175.2 1168.5,173.6 1168.8,176.6 1169.1,174.7 1169.4,176.8 1169.7,177.1 1170.0,175.1 1170.3,174.4 1170.6,176.1 1170.9,176.9 1171.2,174.3 1171.5,175.9 1171.8,174.7 1172.1,177.9 1172.4,176.5 1172.7,173.9 1173.0,175.3 1173.3,172.0 1173.6,175.4 1173.9,176.1 1174.2,176.5 1174.5,176.2 1174.8,175.5 1175.1,177.8 1175.4,177.1 1175.7,175.6 1176.0,175.8 1176.3,175.1 1176.6,174.1 1176.9,175.6 1177.2,176.0 1177.5,175.5 1177.8,174.7 1178.1,172.0 1178.4,173.7 1178.7,177.1 1179.0,173.6 1179.3,176.7 1179.6,176.9 1179.9,175.9 1180.2,176.0 1180.5,177.0 1180.8,175.9 1181.1,175.9 1181.4,177.1 1181.7,175.9 1182.0,178.6 1182.3,174.5 1182.6,175.5 1182.9,175.6 1183.2,176.2 1183.5,175.1 1183.8,178.5 1184.1,176.8 1184.4,173.6 1184.7,176.0 1185.0,176.9 1185.3,177.5 1185.6,176.5 1185.9,175.0 1186.2,177.0 1186.5,174.3" fill="none" stroke="#080808" stroke-width="1.7" stroke-linejoin="round"/>
<text x="1198.2" y="202.6" font-size="17.58" font-weight="normal" font-style="normal" fill="#000" text-anchor="start"  textLength="66.5" lengthAdjust="spacingAndGlyphs">-100 mV</text>
<line x1="1072" y1="245.2" x2="1191" y2="245.2" stroke="#dc9448" stroke-width="1.7" stroke-dasharray="3.5 2.6"/>
<polyline points="1078.5,246.1 1078.8,244.2 1079.1,248.0 1079.4,247.0 1079.7,249.2 1080.0,245.5 1080.3,245.8 1080.6,245.3 1080.9,247.7 1081.2,244.4 1081.5,247.0 1081.8,245.5 1082.1,247.1 1082.4,246.4 1082.7,244.8 1083.0,245.3 1083.3,243.4 1083.6,244.6 1083.9,268.9 1084.2,273.1 1084.5,269.4 1084.8,271.1 1085.1,269.9 1085.4,244.0 1085.7,246.9 1086.0,241.0 1086.3,246.9 1086.6,247.8 1086.9,246.9 1087.2,247.4 1087.5,249.1 1087.8,243.5 1088.1,245.0 1088.4,266.6 1088.7,270.5 1089.0,269.5 1089.3,268.6 1089.6,271.7 1089.9,248.8 1090.2,248.0 1090.5,248.7 1090.8,246.2 1091.1,246.7 1091.4,248.2 1091.7,247.5 1092.0,247.5 1092.3,245.5 1092.6,245.4 1092.9,245.0 1093.2,247.9 1093.5,244.7 1093.8,246.3 1094.1,246.4 1094.4,245.9 1094.7,245.6 1095.0,246.6 1095.3,244.9 1095.6,246.2 1095.9,248.0 1096.2,245.2 1096.5,247.7 1096.8,247.9 1097.1,248.7 1097.4,244.7 1097.7,248.6 1098.0,247.6 1098.3,248.2 1098.6,247.5 1098.9,245.8 1099.2,247.4 1099.5,246.3 1099.8,245.3 1100.1,254.0 1100.4,245.4 1100.7,245.8 1101.0,243.6 1101.3,246.5 1101.6,244.0 1101.9,247.0 1102.2,248.1 1102.5,247.9 1102.8,248.4 1103.1,248.4 1103.4,249.6 1103.7,245.9 1104.0,244.8 1104.3,245.8 1104.6,244.6 1104.9,248.0 1105.2,242.5 1105.5,256.0 1105.8,247.4 1106.1,247.0 1106.4,247.3 1106.7,244.5 1107.0,245.4 1107.3,245.8 1107.6,246.8 1107.9,246.9 1108.2,248.3 1108.5,244.2 1108.8,246.5 1109.1,249.4 1109.4,248.0 1109.7,246.4 1110.0,247.3 1110.3,245.7 1110.6,248.1 1110.9,245.2 1111.2,247.3 1111.5,246.4 1111.8,244.9 1112.1,246.4 1112.4,246.0 1112.7,245.1 1113.0,246.3 1113.3,244.8 1113.6,247.7 1113.9,246.8 1114.2,247.6 1114.5,247.1 1114.8,246.5 1115.1,244.0 1115.4,245.6 1115.7,246.1 1116.0,245.3 1116.3,245.9 1116.6,245.5 1116.9,245.4 1117.2,244.8 1117.5,245.3 1117.8,244.4 1118.1,247.6 1118.4,246.5 1118.7,246.8 1119.0,247.3 1119.3,245.5 1119.6,247.7 1119.9,243.4 1120.2,245.2 1120.5,246.1 1120.8,248.6 1121.1,247.7 1121.4,247.3 1121.7,255.0 1122.0,245.3 1122.3,245.8 1122.6,245.1 1122.9,246.2 1123.2,244.3 1123.5,245.6 1123.8,245.3 1124.1,246.7 1124.4,245.2 1124.7,246.6 1125.0,246.8 1125.3,246.8 1125.6,247.2 1125.9,244.7 1126.2,246.2 1126.5,245.8 1126.8,247.6 1127.1,242.0 1127.4,246.5 1127.7,244.1 1128.0,245.6 1128.3,245.0 1128.6,246.0 1128.9,245.1 1129.2,246.0 1129.5,246.4 1129.8,244.6 1130.1,247.1 1130.4,245.2 1130.7,249.0 1131.0,247.7 1131.3,247.0 1131.6,246.2 1131.9,248.0 1132.2,246.5 1132.5,266.5 1132.8,272.3 1133.1,271.2 1133.4,264.5 1133.7,266.2 1134.0,274.0 1134.3,271.4 1134.6,268.8 1134.9,266.0 1135.2,267.9 1135.5,274.5 1135.8,264.8 1136.1,271.9 1136.4,276.7 1136.7,270.9 1137.0,268.2 1137.3,271.9 1137.6,272.2 1137.9,271.5 1138.2,270.1 1138.5,266.6 1138.8,271.9 1139.1,272.4 1139.4,271.6 1139.7,271.8 1140.0,282.0 1140.3,280.0 1140.6,279.3 1140.9,269.2 1141.2,271.3 1141.5,267.6 1141.8,266.0 1142.1,270.6 1142.4,274.1 1142.7,268.1 1143.0,269.4 1143.3,269.2 1143.6,266.9 1143.9,266.9 1144.2,270.8 1144.5,269.4 1144.8,270.0 1145.1,268.1 1145.4,274.0 1145.7,276.3 1146.0,268.5 1146.3,266.7 1146.6,247.9 1146.9,248.1 1147.2,249.0 1147.5,244.7 1147.8,245.9 1148.1,243.2 1148.4,246.6 1148.7,244.1 1149.0,243.4 1149.3,247.1 1149.6,246.7 1149.9,243.0 1150.2,244.8 1150.5,249.6 1150.8,254.0 1151.1,245.3 1151.4,248.9 1151.7,248.6 1152.0,246.3 1152.3,244.9 1152.6,246.6 1152.9,245.1 1153.2,246.5 1153.5,247.6 1153.8,246.1 1154.1,247.7 1154.4,247.9 1154.7,244.8 1155.0,245.6 1155.3,244.5 1155.6,246.6 1155.9,243.4 1156.2,244.5 1156.5,242.7 1156.8,246.7 1157.1,244.6 1157.4,247.9 1157.7,247.1 1158.0,246.7 1158.3,253.0 1158.6,243.6 1158.9,244.4 1159.2,246.0 1159.5,245.9 1159.8,245.7 1160.1,246.0 1160.4,248.1 1160.7,247.8 1161.0,244.2 1161.3,247.0 1161.6,244.7 1161.9,246.4 1162.2,271.0 1162.5,272.9 1162.8,272.5 1163.1,267.5 1163.4,245.8 1163.7,241.0 1164.0,245.7 1164.3,248.3 1164.6,243.9 1164.9,246.8 1165.2,246.3 1165.5,245.3 1165.8,245.8 1166.1,245.6 1166.4,246.4 1166.7,245.1 1167.0,245.5 1167.3,277.0 1167.6,269.3 1167.9,271.9 1168.2,273.2 1168.5,268.2 1168.8,272.5 1169.1,268.9 1169.4,264.0 1169.7,270.5 1170.0,262.7 1170.3,270.2 1170.6,272.3 1170.9,275.0 1171.2,272.2 1171.5,273.2 1171.8,272.1 1172.1,270.5 1172.4,273.2 1172.7,269.5 1173.0,271.2 1173.3,268.7 1173.6,269.8 1173.9,271.5 1174.2,265.6 1174.5,268.8 1174.8,268.0 1175.1,270.3 1175.4,275.5 1175.7,268.1 1176.0,270.0 1176.3,269.6 1176.6,268.5 1176.9,268.5 1177.2,272.9 1177.5,269.9 1177.8,268.6 1178.1,267.4 1178.4,244.7 1178.7,247.3 1179.0,244.5 1179.3,243.1 1179.6,244.6 1179.9,246.0 1180.2,246.5 1180.5,245.9 1180.8,247.2 1181.1,244.0 1181.4,244.5 1181.7,245.4 1182.0,246.0 1182.3,242.8 1182.6,245.7 1182.9,243.5 1183.2,247.3 1183.5,246.3 1183.8,264.0 1184.1,248.8 1184.4,246.7 1184.7,245.5 1185.0,244.3 1185.3,245.0 1185.6,247.4 1185.9,246.4 1186.2,246.0 1186.5,243.9" fill="none" stroke="#080808" stroke-width="1.8" stroke-linejoin="round"/>
<text x="1198.2" y="262.7" font-size="17.58" font-weight="normal" font-style="normal" fill="#000" text-anchor="start"  textLength="57.0" lengthAdjust="spacingAndGlyphs">-80 mV</text>
<line x1="1077" y1="305.5" x2="1191" y2="305.5" stroke="#dc9448" stroke-width="1.7" stroke-dasharray="3.5 2.6"/>
<polyline points="1078.5,303.9 1078.8,308.3 1079.1,307.0 1079.4,306.0 1079.7,305.2 1080.0,308.9 1080.3,306.5 1080.6,307.2 1080.9,305.7 1081.2,306.4 1081.5,306.1 1081.8,307.4 1082.1,303.9 1082.4,308.2 1082.7,306.1 1083.0,307.0 1083.3,307.3 1083.6,305.5 1083.9,307.1 1084.2,304.7 1084.5,306.4 1084.8,305.2 1085.1,307.4 1085.4,307.8 1085.7,304.7 1086.0,318.3 1086.3,305.2 1086.6,304.4 1086.9,306.0 1087.2,307.3 1087.5,307.5 1087.8,305.5 1088.1,305.8 1088.4,307.8 1088.7,306.1 1089.0,308.3 1089.3,308.4 1089.6,306.8 1089.9,305.2 1090.2,305.7 1090.5,307.1 1090.8,305.9 1091.1,306.2 1091.4,323.6 1091.7,304.3 1092.0,318.6 1092.3,318.8 1092.6,317.2 1092.9,320.8 1093.2,305.7 1093.5,318.4 1093.8,307.8 1094.1,307.9 1094.4,305.9 1094.7,305.5 1095.0,304.3 1095.3,304.0 1095.6,321.2 1095.9,306.1 1096.2,305.1 1096.5,304.5 1096.8,307.6 1097.1,319.0 1097.4,321.9 1097.7,322.9 1098.0,305.1 1098.3,304.4 1098.6,306.0 1098.9,306.7 1099.2,319.2 1099.5,319.6 1099.8,321.2 1100.1,317.0 1100.4,322.2 1100.7,323.0 1101.0,340.2 1101.3,336.2 1101.6,318.7 1101.9,317.9 1102.2,319.8 1102.5,323.4 1102.8,304.4 1103.1,306.6 1103.4,305.6 1103.7,305.2 1104.0,304.4 1104.3,326.0 1104.6,306.2 1104.9,307.8 1105.2,305.0 1105.5,306.9 1105.8,304.6 1106.1,306.7 1106.4,305.8 1106.7,305.7 1107.0,304.4 1107.3,305.5 1107.6,305.6 1107.9,307.7 1108.2,306.9 1108.5,306.6 1108.8,305.3 1109.1,306.4 1109.4,307.0 1109.7,307.7 1110.0,307.2 1110.3,308.3 1110.6,305.9 1110.9,305.0 1111.2,307.6 1111.5,308.3 1111.8,307.2 1112.1,306.2 1112.4,306.3 1112.7,305.7 1113.0,305.7 1113.3,306.1 1113.6,306.6 1113.9,304.8 1114.2,306.7 1114.5,306.3 1114.8,305.9 1115.1,322.3 1115.4,305.7 1115.7,306.5 1116.0,307.9 1116.3,318.7 1116.6,322.6 1116.9,305.4 1117.2,324.1 1117.5,306.4 1117.8,305.4 1118.1,307.4 1118.4,304.4 1118.7,305.9 1119.0,306.1 1119.3,306.3 1119.6,305.9 1119.9,304.9 1120.2,306.2 1120.5,307.8 1120.8,306.9 1121.1,305.9 1121.4,304.6 1121.7,322.6 1122.0,307.0 1122.3,305.5 1122.6,305.7 1122.9,308.9 1123.2,303.3 1123.5,307.2 1123.8,319.4 1124.1,304.5 1124.4,309.3 1124.7,307.4 1125.0,306.8 1125.3,307.1 1125.6,307.2 1125.9,305.4 1126.2,304.5 1126.5,305.1 1126.8,306.5 1127.1,325.8 1127.4,307.3 1127.7,306.0 1128.0,307.0 1128.3,319.9 1128.6,316.4 1128.9,305.5 1129.2,323.0 1129.5,306.0 1129.8,305.4 1130.1,306.0 1130.4,307.7 1130.7,305.2 1131.0,303.1 1131.3,306.2 1131.6,303.3 1131.9,307.9 1132.2,305.3 1132.5,322.8 1132.8,305.8 1133.1,306.3 1133.4,306.4 1133.7,323.6 1134.0,316.3 1134.3,318.5 1134.6,318.3 1134.9,319.0 1135.2,321.7 1135.5,313.5 1135.8,303.5 1136.1,306.1 1136.4,306.5 1136.7,317.0 1137.0,307.2 1137.3,307.9 1137.6,304.9 1137.9,318.8 1138.2,320.6 1138.5,321.6 1138.8,321.5 1139.1,320.8 1139.4,316.6 1139.7,308.8 1140.0,306.0 1140.3,306.6 1140.6,304.9 1140.9,324.3 1141.2,305.6 1141.5,307.4 1141.8,307.2 1142.1,305.4 1142.4,306.2 1142.7,306.2 1143.0,306.4 1143.3,323.9 1143.6,305.2 1143.9,309.4 1144.2,305.1 1144.5,304.4 1144.8,307.0 1145.1,304.6 1145.4,307.7 1145.7,306.5 1146.0,318.8 1146.3,319.0 1146.6,320.4 1146.9,317.5 1147.2,318.6 1147.5,326.2 1147.8,306.3 1148.1,306.5 1148.4,304.9 1148.7,308.6 1149.0,306.9 1149.3,305.8 1149.6,316.7 1149.9,305.5 1150.2,307.7 1150.5,307.2 1150.8,305.3 1151.1,305.7 1151.4,305.6 1151.7,306.3 1152.0,308.8 1152.3,305.8 1152.6,306.6 1152.9,305.7 1153.2,305.9 1153.5,306.6 1153.8,307.5 1154.1,304.7 1154.4,305.3 1154.7,305.9 1155.0,305.0 1155.3,308.0 1155.6,307.0 1155.9,307.5 1156.2,306.6 1156.5,304.7 1156.8,307.3 1157.1,306.0 1157.4,305.3 1157.7,305.1 1158.0,304.7 1158.3,305.5 1158.6,306.3 1158.9,307.6 1159.2,305.3 1159.5,307.0 1159.8,306.5 1160.1,307.1 1160.4,320.9 1160.7,304.6 1161.0,307.5 1161.3,307.0 1161.6,304.7 1161.9,320.2 1162.2,319.3 1162.5,324.9 1162.8,325.1 1163.1,320.5 1163.4,305.9 1163.7,307.0 1164.0,306.5 1164.3,307.0 1164.6,305.8 1164.9,317.0 1165.2,303.8 1165.5,304.5 1165.8,304.1 1166.1,306.1 1166.4,306.9 1166.7,325.5 1167.0,320.8 1167.3,327.0 1167.6,308.2 1167.9,323.3 1168.2,305.5 1168.5,306.5 1168.8,305.5 1169.1,305.6 1169.4,306.2 1169.7,306.8 1170.0,303.7 1170.3,306.3 1170.6,306.2 1170.9,307.1 1171.2,317.1 1171.5,306.8 1171.8,304.9 1172.1,305.0 1172.4,305.1 1172.7,306.3 1173.0,305.7 1173.3,307.6 1173.6,306.7 1173.9,305.9 1174.2,307.4 1174.5,308.2 1174.8,306.3 1175.1,308.4 1175.4,306.5 1175.7,318.6 1176.0,305.0 1176.3,307.5 1176.6,307.4 1176.9,306.5 1177.2,307.4 1177.5,308.7 1177.8,308.3 1178.1,305.1 1178.4,305.9 1178.7,315.8 1179.0,307.3 1179.3,307.6 1179.6,304.3 1179.9,307.1 1180.2,306.9 1180.5,305.5 1180.8,308.1 1181.1,307.2 1181.4,307.5 1181.7,308.2 1182.0,305.9 1182.3,306.7 1182.6,306.2 1182.9,307.6 1183.2,318.5 1183.5,305.0 1183.8,305.4 1184.1,305.0 1184.4,306.5 1184.7,304.9 1185.0,305.1 1185.3,307.9 1185.6,305.2 1185.9,307.0 1186.2,303.7 1186.5,307.2" fill="none" stroke="#080808" stroke-width="1.7" stroke-linejoin="round"/>
<text x="1198.2" y="324.3" font-size="17.58" font-weight="normal" font-style="normal" fill="#000" text-anchor="start"  textLength="55.0" lengthAdjust="spacingAndGlyphs">-60 mV</text>
<line x1="1077" y1="369.2" x2="1191" y2="369.2" stroke="#dc9448" stroke-width="1.7" stroke-dasharray="3.5 2.6"/>
<polyline points="1078.5,369.0 1078.8,370.3 1079.1,368.5 1079.4,371.7 1079.7,370.1 1080.0,370.1 1080.3,370.9 1080.6,370.0 1080.9,370.3 1081.2,370.4 1081.5,375.4 1081.8,370.9 1082.1,369.8 1082.4,370.4 1082.7,368.7 1083.0,371.4 1083.3,369.2 1083.6,369.8 1083.9,370.1 1084.2,370.6 1084.5,369.5 1084.8,369.6 1085.1,376.8 1085.4,373.1 1085.7,377.0 1086.0,379.5 1086.3,380.3 1086.6,376.7 1086.9,376.2 1087.2,380.1 1087.5,377.4 1087.8,380.8 1088.1,376.6 1088.4,379.0 1088.7,378.0 1089.0,378.6 1089.3,379.8 1089.6,378.5 1089.9,378.0 1090.2,378.0 1090.5,381.4 1090.8,379.4 1091.1,378.1 1091.4,375.4 1091.7,370.7 1092.0,369.7 1092.3,368.8 1092.6,370.2 1092.9,369.5 1093.2,370.2 1093.5,370.4 1093.8,370.0 1094.1,369.6 1094.4,370.1 1094.7,383.4 1095.0,376.5 1095.3,376.1 1095.6,376.7 1095.9,376.0 1096.2,377.6 1096.5,369.5 1096.8,370.5 1097.1,370.3 1097.4,371.0 1097.7,370.3 1098.0,378.8 1098.3,393.2 1098.6,372.9 1098.9,390.2 1099.2,377.6 1099.5,376.7 1099.8,378.4 1100.1,369.6 1100.4,370.8 1100.7,370.6 1101.0,369.0 1101.3,370.9 1101.6,368.8 1101.9,370.7 1102.2,371.9 1102.5,371.4 1102.8,369.3 1103.1,371.6 1103.4,371.9 1103.7,370.5 1104.0,370.5 1104.3,371.9 1104.6,370.6 1104.9,368.9 1105.2,370.2 1105.5,378.5 1105.8,379.8 1106.1,382.2 1106.4,379.8 1106.7,380.7 1107.0,375.7 1107.3,376.7 1107.6,387.2 1107.9,370.7 1108.2,372.3 1108.5,371.7 1108.8,369.2 1109.1,371.1 1109.4,369.6 1109.7,369.9 1110.0,370.3 1110.3,370.3 1110.6,370.5 1110.9,379.3 1111.2,371.0 1111.5,370.0 1111.8,370.1 1112.1,369.7 1112.4,370.4 1112.7,369.5 1113.0,369.5 1113.3,371.0 1113.6,370.7 1113.9,370.6 1114.2,378.7 1114.5,376.6 1114.8,375.7 1115.1,384.2 1115.4,378.4 1115.7,379.5 1116.0,380.3 1116.3,371.1 1116.6,369.3 1116.9,371.2 1117.2,368.4 1117.5,370.5 1117.8,371.5 1118.1,370.6 1118.4,370.5 1118.7,369.6 1119.0,371.2 1119.3,377.8 1119.6,370.9 1119.9,370.9 1120.2,370.1 1120.5,369.8 1120.8,371.0 1121.1,370.9 1121.4,370.5 1121.7,370.8 1122.0,369.8 1122.3,370.4 1122.6,371.0 1122.9,370.6 1123.2,368.1 1123.5,370.6 1123.8,369.9 1124.1,370.1 1124.4,370.5 1124.7,380.5 1125.0,368.5 1125.3,369.5 1125.6,371.9 1125.9,369.8 1126.2,371.9 1126.5,371.6 1126.8,369.5 1127.1,378.0 1127.4,380.1 1127.7,381.7 1128.0,378.4 1128.3,370.6 1128.6,370.0 1128.9,372.2 1129.2,368.8 1129.5,370.6 1129.8,371.1 1130.1,376.3 1130.4,369.9 1130.7,370.8 1131.0,369.8 1131.3,369.5 1131.6,372.1 1131.9,372.0 1132.2,369.6 1132.5,370.3 1132.8,371.5 1133.1,370.3 1133.4,370.0 1133.7,370.2 1134.0,368.7 1134.3,370.5 1134.6,380.9 1134.9,370.0 1135.2,369.0 1135.5,370.2 1135.8,369.9 1136.1,369.8 1136.4,370.9 1136.7,368.2 1137.0,370.1 1137.3,368.4 1137.6,368.9 1137.9,371.6 1138.2,370.5 1138.5,370.8 1138.8,377.9 1139.1,369.1 1139.4,370.7 1139.7,370.5 1140.0,371.1 1140.3,370.4 1140.6,370.6 1140.9,370.7 1141.2,370.2 1141.5,369.0 1141.8,371.0 1142.1,369.9 1142.4,370.1 1142.7,370.1 1143.0,370.8 1143.3,379.4 1143.6,369.1 1143.9,370.4 1144.2,371.2 1144.5,369.9 1144.8,371.5 1145.1,370.1 1145.4,370.6 1145.7,371.9 1146.0,371.3 1146.3,373.6 1146.6,369.6 1146.9,370.4 1147.2,371.0 1147.5,376.7 1147.8,369.5 1148.1,370.7 1148.4,370.1 1148.7,370.0 1149.0,369.8 1149.3,370.6 1149.6,370.2 1149.9,370.2 1150.2,369.7 1150.5,369.8 1150.8,369.1 1151.1,370.5 1151.4,370.1 1151.7,377.0 1152.0,370.2 1152.3,370.7 1152.6,370.7 1152.9,370.1 1153.2,370.9 1153.5,371.0 1153.8,368.6 1154.1,369.3 1154.4,370.8 1154.7,370.4 1155.0,370.8 1155.3,371.2 1155.6,369.3 1155.9,370.5 1156.2,377.3 1156.5,369.3 1156.8,371.6 1157.1,368.5 1157.4,369.9 1157.7,372.3 1158.0,370.0 1158.3,370.4 1158.6,370.6 1158.9,370.0 1159.2,370.9 1159.5,377.1 1159.8,369.6 1160.1,372.5 1160.4,370.8 1160.7,369.5 1161.0,368.5 1161.3,369.9 1161.6,370.7 1161.9,369.0 1162.2,369.8 1162.5,375.8 1162.8,370.3 1163.1,371.5 1163.4,368.8 1163.7,369.4 1164.0,372.1 1164.3,368.8 1164.6,370.3 1164.9,378.9 1165.2,380.3 1165.5,376.6 1165.8,379.5 1166.1,371.5 1166.4,370.2 1166.7,370.9 1167.0,377.9 1167.3,371.0 1167.6,370.0 1167.9,384.2 1168.2,370.1 1168.5,368.9 1168.8,368.9 1169.1,370.4 1169.4,370.2 1169.7,370.1 1170.0,368.9 1170.3,381.1 1170.6,369.9 1170.9,368.9 1171.2,371.2 1171.5,372.3 1171.8,370.3 1172.1,369.6 1172.4,368.1 1172.7,371.2 1173.0,370.4 1173.3,379.1 1173.6,372.1 1173.9,369.7 1174.2,370.4 1174.5,371.7 1174.8,369.4 1175.1,371.2 1175.4,370.2 1175.7,369.7 1176.0,370.3 1176.3,370.8 1176.6,380.8 1176.9,370.4 1177.2,370.8 1177.5,370.9 1177.8,369.9 1178.1,370.4 1178.4,368.3 1178.7,369.1 1179.0,369.5 1179.3,369.8 1179.6,369.9 1179.9,369.3 1180.2,379.2 1180.5,380.2 1180.8,381.2 1181.1,378.5 1181.4,379.2 1181.7,379.8 1182.0,381.5 1182.3,377.4 1182.6,379.7 1182.9,375.7 1183.2,376.1 1183.5,375.9 1183.8,379.5 1184.1,377.9 1184.4,378.4 1184.7,376.5 1185.0,370.1 1185.3,371.9 1185.6,368.8 1185.9,369.2 1186.2,371.0 1186.5,369.4" fill="none" stroke="#080808" stroke-width="1.8" stroke-linejoin="round"/>
<text x="1198.2" y="380.7" font-size="17.58" font-weight="normal" font-style="normal" fill="#000" text-anchor="start"  textLength="55.0" lengthAdjust="spacingAndGlyphs">-40 mV</text>
<line x1="1075" y1="424.6" x2="1191" y2="424.6" stroke="#dc9448" stroke-width="1.7" stroke-dasharray="3.5 2.6"/>
<polyline points="1076.0,425.3 1076.3,425.4 1076.6,424.0 1076.9,425.0 1077.2,425.3 1077.5,425.6 1077.8,425.8 1078.1,425.3 1078.4,425.3 1078.7,425.2 1079.0,425.4 1079.3,425.9 1079.6,424.7 1079.9,423.0 1080.2,425.7 1080.5,425.3 1080.8,427.2 1081.1,424.5 1081.4,425.7 1081.7,425.9 1082.0,424.6 1082.3,425.2 1082.6,424.5 1082.9,425.8 1083.2,425.3 1083.5,425.6 1083.8,425.7 1084.1,425.5 1084.4,426.2 1084.7,425.9 1085.0,425.1 1085.3,424.7 1085.6,425.6 1085.9,424.1 1086.2,424.8 1086.5,426.1 1086.8,426.0 1087.1,429.0 1087.4,427.1 1087.7,427.2 1088.0,428.0 1088.3,428.3 1088.6,426.3 1088.9,428.1 1089.2,425.5 1089.5,426.7 1089.8,425.4 1090.1,425.0 1090.4,424.9 1090.7,425.0 1091.0,424.9 1091.3,423.9 1091.6,425.4 1091.9,424.7 1092.2,429.3 1092.5,426.0 1092.8,424.9 1093.1,425.1 1093.4,425.7 1093.7,426.3 1094.0,426.2 1094.3,426.0 1094.6,425.3 1094.9,425.9 1095.2,424.4 1095.5,425.8 1095.8,425.3 1096.1,425.1 1096.4,425.2 1096.7,424.7 1097.0,425.0 1097.3,426.4 1097.6,424.9 1097.9,424.3 1098.2,425.7 1098.5,425.0 1098.8,424.9 1099.1,426.4 1099.4,425.3 1099.7,425.8 1100.0,425.5 1100.3,426.7 1100.6,425.9 1100.9,424.2 1101.2,426.7 1101.5,424.9 1101.8,425.0 1102.1,425.9 1102.4,425.3 1102.7,425.0 1103.0,425.0 1103.3,425.1 1103.6,426.2 1103.9,425.6 1104.2,426.4 1104.5,426.8 1104.8,425.9 1105.1,424.7 1105.4,425.4 1105.7,425.7 1106.0,424.3 1106.3,425.3 1106.6,424.5 1106.9,426.3 1107.2,423.9 1107.5,425.0 1107.8,425.5 1108.1,425.5 1108.4,424.6 1108.7,427.9 1109.0,427.3 1109.3,428.5 1109.6,427.4 1109.9,428.0 1110.2,426.1 1110.5,427.5 1110.8,427.4 1111.1,424.5 1111.4,423.6 1111.7,425.9 1112.0,426.3 1112.3,424.9 1112.6,426.0 1112.9,425.8 1113.2,424.9 1113.5,424.8 1113.8,427.5 1114.1,425.8 1114.4,425.7 1114.7,425.1 1115.0,424.2 1115.3,425.5 1115.6,425.2 1115.9,425.6 1116.2,425.3 1116.5,423.9 1116.8,425.0 1117.1,425.4 1117.4,425.0 1117.7,425.5 1118.0,425.6 1118.3,425.2 1118.6,425.0 1118.9,426.6 1119.2,425.6 1119.5,425.6 1119.8,425.7 1120.1,425.5 1120.4,423.8 1120.7,425.0 1121.0,425.5 1121.3,425.7 1121.6,425.4 1121.9,424.5 1122.2,425.1 1122.5,425.6 1122.8,425.4 1123.1,427.4 1123.4,425.8 1123.7,425.7 1124.0,425.2 1124.3,423.6 1124.6,426.0 1124.9,424.8 1125.2,426.3 1125.5,425.0 1125.8,425.1 1126.1,426.2 1126.4,425.0 1126.7,424.0 1127.0,425.7 1127.3,425.7 1127.6,425.7 1127.9,425.2 1128.2,425.6 1128.5,424.6 1128.8,425.3 1129.1,425.9 1129.4,422.9 1129.7,425.8 1130.0,426.2 1130.3,429.3 1130.6,427.1 1130.9,427.7 1131.2,427.3 1131.5,426.6 1131.8,427.6 1132.1,428.1 1132.4,428.0 1132.7,425.9 1133.0,427.2 1133.3,427.2 1133.6,427.4 1133.9,424.2 1134.2,426.9 1134.5,424.1 1134.8,424.6 1135.1,426.7 1135.4,425.6 1135.7,424.7 1136.0,424.8 1136.3,425.9 1136.6,424.8 1136.9,425.9 1137.2,425.7 1137.5,425.7 1137.8,426.0 1138.1,424.9 1138.4,424.2 1138.7,424.0 1139.0,425.3 1139.3,424.7 1139.6,426.6 1139.9,424.6 1140.2,426.6 1140.5,425.2 1140.8,425.3 1141.1,423.8 1141.4,425.3 1141.7,426.5 1142.0,424.2 1142.3,426.3 1142.6,426.0 1142.9,426.0 1143.2,424.5 1143.5,426.6 1143.8,424.4 1144.1,426.6 1144.4,426.2 1144.7,424.0 1145.0,426.5 1145.3,426.7 1145.6,425.3 1145.9,424.1 1146.2,425.2 1146.5,425.1 1146.8,426.0 1147.1,424.6 1147.4,424.6 1147.7,425.5 1148.0,425.6 1148.3,423.9 1148.6,425.7 1148.9,424.9 1149.2,425.0 1149.5,425.8 1149.8,425.9 1150.1,425.7 1150.4,426.7 1150.7,425.5 1151.0,425.3 1151.3,425.6 1151.6,426.5 1151.9,425.8 1152.2,425.6 1152.5,426.1 1152.8,424.1 1153.1,426.1 1153.4,426.0 1153.7,425.1 1154.0,424.2 1154.3,424.0 1154.6,423.6 1154.9,425.6 1155.2,425.2 1155.5,424.6 1155.8,426.0 1156.1,424.6 1156.4,426.1 1156.7,426.0 1157.0,425.8 1157.3,424.5 1157.6,424.5 1157.9,425.4 1158.2,426.2 1158.5,424.5 1158.8,425.5 1159.1,426.0 1159.4,424.0 1159.7,426.8 1160.0,425.2 1160.3,424.9 1160.6,425.5 1160.9,425.2 1161.2,424.6 1161.5,424.8 1161.8,425.1 1162.1,424.5 1162.4,426.1 1162.7,425.8 1163.0,425.9 1163.3,424.0 1163.6,424.9 1163.9,425.7 1164.2,425.3 1164.5,423.9 1164.8,425.6 1165.1,426.9 1165.4,426.2 1165.7,425.3 1166.0,424.4 1166.3,426.2 1166.6,425.8 1166.9,425.1 1167.2,425.1 1167.5,426.0 1167.8,425.2 1168.1,424.8 1168.4,424.4 1168.7,427.0 1169.0,427.1 1169.3,426.9 1169.6,430.8 1169.9,426.3 1170.2,426.0 1170.5,426.8 1170.8,428.0 1171.1,428.9 1171.4,426.0 1171.7,426.9 1172.0,427.8 1172.3,426.7 1172.6,427.8 1172.9,427.0 1173.2,428.2 1173.5,427.4 1173.8,429.3 1174.1,424.3 1174.4,426.2 1174.7,425.0 1175.0,426.2 1175.3,424.9 1175.6,426.0 1175.9,426.2 1176.2,425.6 1176.5,424.5 1176.8,424.8 1177.1,424.9 1177.4,427.2 1177.7,428.1 1178.0,426.4 1178.3,427.2 1178.6,427.4 1178.9,427.3 1179.2,430.3 1179.5,428.4 1179.8,427.3 1180.1,426.7 1180.4,427.3 1180.7,426.3 1181.0,425.8 1181.3,426.3 1181.6,425.7 1181.9,425.0 1182.2,424.2 1182.5,424.6 1182.8,425.3 1183.1,424.0 1183.4,425.1 1183.7,424.7 1184.0,426.3 1184.3,423.8 1184.6,427.1 1184.9,425.9" fill="none" stroke="#080808" stroke-width="2.2" stroke-linejoin="round"/>
<text x="1198.2" y="430.5" font-size="17.58" font-weight="normal" font-style="normal" fill="#000" text-anchor="start"  textLength="55.0" lengthAdjust="spacingAndGlyphs">-20 mV</text>
<path d="M1168.3 447.4H1190.8V428.9" fill="none" stroke="#000" stroke-width="1.9"/>
<text x="1194.6" y="447.4" font-size="18.20" font-weight="bold" font-style="normal" fill="#000" text-anchor="start"  textLength="38.8" lengthAdjust="spacingAndGlyphs">6 pA</text>
<text x="1168.0" y="464.7" font-size="18.20" font-weight="bold" font-style="normal" fill="#000" text-anchor="start"  textLength="59.5" lengthAdjust="spacingAndGlyphs">100 ms</text>
<g opacity="0.9"><rect x="1078.6" y="782.6" width="132.2" height="3" fill="#d9d9d9"/><path d="M1123 743h54l-5 -8.5h-44z" fill="#d9d9d9"/><path d="M1098 744q8 4 18 -1v3q-9 5 -18 1z" fill="#c4c4c4"/><rect x="1121" y="743" width="58" height="14" fill="#e4e4e4"/><rect x="1112" y="752" width="76" height="4" fill="#d9d9d9"/><rect x="1095" y="758" width="112" height="25" fill="#e6e6e6"/><rect x="1095" y="758" width="112" height="3.5" fill="#d9d9d9"/><path d="M1128 783v-14a6.5 8 0 0 1 13 0v14z" fill="#c4c4c4"/><path d="M1162 783v-14a6.5 8 0 0 1 13 0v14z" fill="#c4c4c4"/><path d="M1110 785l8 -14h4l-5 14zM1175 785l-6 -14h4l9 14z" fill="#c4c4c4"/></g>
<text x="286.3" y="479.8" font-size="20.49" font-weight="bold" font-style="normal" fill="#000" text-anchor="start"  textLength="115.5" lengthAdjust="spacingAndGlyphs">DART assay</text>
<rect x="226.4" y="509.7" width="222.4" height="29.6" rx="6" ry="14" fill="#fff" stroke="#1a1a1a" stroke-width="2"/>
<path d="M330.5 509.7V539.3M344.7 509.7V539.3" stroke="#1a1a1a" stroke-width="1.8"/>
<ellipse cx="237.6" cy="523.6" rx="8.2" ry="7.4" fill="#8a8a8a"/>
<ellipse cx="434" cy="523.9" rx="9.3" ry="7.1" fill="#0d8c8c"/>
<path d="M232.6 488.3V505.5M330.5 488.3V505.5M343.6 488.3V505.5M445.4 488.3V505.5" stroke="#8e8e1c" stroke-width="2.3" fill="none"/>
<path d="M236 497.4H267.5M296 497.4H327M347 497.4H377.5M408.5 497.4H442" stroke="#8e8e1c" stroke-width="1.9" fill="none"/>
<path d="M233.4 497.4L244.9 492.79999999999995L241.4 497.4L244.9 502.0Z" fill="#8e8e1c"/>
<path d="M329.7 497.4L318.2 492.79999999999995L321.7 497.4L318.2 502.0Z" fill="#8e8e1c"/>
<path d="M344.4 497.4L355.9 492.79999999999995L352.4 497.4L355.9 502.0Z" fill="#8e8e1c"/>
<path d="M444.6 497.4L433.1 492.79999999999995L436.6 497.4L433.1 502.0Z" fill="#8e8e1c"/>
<text x="282.3" y="503.0" font-size="19.76" font-weight="normal" font-style="normal" fill="#8e8e1c" text-anchor="middle"  textLength="12.7" lengthAdjust="spacingAndGlyphs">A</text>
<text x="392.3" y="503.0" font-size="19.76" font-weight="normal" font-style="normal" fill="#8e8e1c" text-anchor="middle"  textLength="12.7" lengthAdjust="spacingAndGlyphs">B</text>
<text x="172.9" y="527.7" font-size="21.32" font-weight="normal" font-style="normal" fill="#111" text-anchor="start"  textLength="16.1" lengthAdjust="spacingAndGlyphs">H</text>
<text x="188.3" y="536.6" font-size="13.10" font-weight="normal" font-style="normal" fill="#111" text-anchor="start"  textLength="7.4" lengthAdjust="spacingAndGlyphs">2</text>
<text x="195.3" y="527.7" font-size="21.32" font-weight="normal" font-style="normal" fill="#111" text-anchor="start"  textLength="16.3" lengthAdjust="spacingAndGlyphs">O</text>
<text x="463.5" y="530.0" font-size="20.38" font-weight="normal" font-style="normal" fill="#111" text-anchor="start"  textLength="83.5" lengthAdjust="spacingAndGlyphs">Repellent</text>
<rect x="1098" y="494" width="14.2" height="10.9" fill="#08087c" stroke="#000040" stroke-width="0.6"/>
<rect x="1098" y="521" width="14.2" height="10" fill="#128212" stroke="#0a500a" stroke-width="0.6"/>
<text x="1118.3" y="503.8" font-size="15.91" font-weight="normal" font-style="normal" fill="#000" text-anchor="start"  textLength="68.3" lengthAdjust="spacingAndGlyphs">Citronellal</text>
<text x="1118.3" y="530.6" font-size="15.91" font-weight="normal" font-style="normal" fill="#000" text-anchor="start"  textLength="68.3" lengthAdjust="spacingAndGlyphs">Citronellol</text>
<rect x="97.6" y="598.4" width="28.2" height="95.5" fill="#06067e"/>
<rect x="132.1" y="682.5" width="28.2" height="11.4" fill="#06067e"/>
<rect x="166.5" y="689.9" width="28.2" height="4.0" fill="#06067e"/>
<rect x="201.0" y="609.4" width="28.2" height="84.5" fill="#06067e"/>
<rect x="235.4" y="605.3" width="28.2" height="88.6" fill="#06067e"/>
<rect x="269.9" y="615.5" width="28.2" height="78.4" fill="#06067e"/>
<rect x="304.4" y="598.3" width="28.2" height="95.6" fill="#06067e"/>
<rect x="338.8" y="611.2" width="28.2" height="82.7" fill="#06067e"/>
<rect x="373.3" y="572.1" width="28.2" height="121.8" fill="#06067e"/>
<rect x="407.7" y="614.2" width="28.2" height="79.7" fill="#06067e"/>
<rect x="442.2" y="606.3" width="28.2" height="87.6" fill="#06067e"/>
<rect x="476.7" y="583.3" width="28.2" height="110.6" fill="#06067e"/>
<rect x="511.1" y="604.0" width="28.2" height="89.9" fill="#06067e"/>
<rect x="545.6" y="601.3" width="28.2" height="92.6" fill="#06067e"/>
<path d="M111.7 598.4V590.7M106.5 590.7h10.4" stroke="#000" stroke-width="1.6" fill="none"/>
<path d="M146.2 682.5V676.6M141.0 676.6h10.4" stroke="#000" stroke-width="1.6" fill="none"/>
<path d="M180.6 689.9V681.9M175.4 681.9h10.4" stroke="#000" stroke-width="1.6" fill="none"/>
<path d="M215.1 609.4V603.6M209.9 603.6h10.4" stroke="#000" stroke-width="1.6" fill="none"/>
<path d="M249.5 605.3V600.9M244.3 600.9h10.4" stroke="#000" stroke-width="1.6" fill="none"/>
<path d="M284.0 615.5V595.0M278.8 595.0h10.4" stroke="#000" stroke-width="1.6" fill="none"/>
<path d="M318.5 598.3V593.6M313.3 593.6h10.4" stroke="#000" stroke-width="1.6" fill="none"/>
<path d="M352.9 611.2V601.6M347.7 601.6h10.4" stroke="#000" stroke-width="1.6" fill="none"/>
<path d="M387.4 572.1V569.1M382.2 569.1h10.4" stroke="#000" stroke-width="1.6" fill="none"/>
<path d="M421.8 614.2V605.7M416.6 605.7h10.4" stroke="#000" stroke-width="1.6" fill="none"/>
<path d="M456.3 606.3V604.3M451.1 604.3h10.4" stroke="#000" stroke-width="1.6" fill="none"/>
<path d="M490.8 583.3V577.0M485.6 577.0h10.4" stroke="#000" stroke-width="1.6" fill="none"/>
<path d="M525.2 604.0V598.3M520.0 598.3h10.4" stroke="#000" stroke-width="1.6" fill="none"/>
<path d="M559.7 601.3V594.3M554.5 594.3h10.4" stroke="#000" stroke-width="1.6" fill="none"/>
<line x1="94.2" y1="547.3" x2="94.2" y2="721.8" stroke="#000" stroke-width="3"/>
<line x1="92.7" y1="693.9" x2="577.6" y2="693.9" stroke="#000" stroke-width="2.4"/>
<line x1="85.8" y1="720.5" x2="94.2" y2="720.5" stroke="#000" stroke-width="2.6"/>
<text x="80.6" y="726.7" font-size="18.10" font-weight="normal" font-style="normal" fill="#111" text-anchor="end"  textLength="30.0" lengthAdjust="spacingAndGlyphs">-0.2</text>
<line x1="89.60000000000001" y1="707.2" x2="94.2" y2="707.2" stroke="#000" stroke-width="2.6"/>
<line x1="85.8" y1="693.9" x2="94.2" y2="693.9" stroke="#000" stroke-width="2.6"/>
<text x="80.6" y="700.1" font-size="18.10" font-weight="normal" font-style="normal" fill="#111" text-anchor="end"  textLength="24.2" lengthAdjust="spacingAndGlyphs">0.0</text>
<line x1="89.60000000000001" y1="680.6" x2="94.2" y2="680.6" stroke="#000" stroke-width="2.6"/>
<line x1="85.8" y1="667.3" x2="94.2" y2="667.3" stroke="#000" stroke-width="2.6"/>
<text x="80.6" y="673.5" font-size="18.10" font-weight="normal" font-style="normal" fill="#111" text-anchor="end"  textLength="24.2" lengthAdjust="spacingAndGlyphs">0.2</text>
<line x1="89.60000000000001" y1="654.1" x2="94.2" y2="654.1" stroke="#000" stroke-width="2.6"/>
<line x1="85.8" y1="640.8" x2="94.2" y2="640.8" stroke="#000" stroke-width="2.6"/>
<text x="80.6" y="647.0" font-size="18.10" font-weight="normal" font-style="normal" fill="#111" text-anchor="end"  textLength="24.2" lengthAdjust="spacingAndGlyphs">0.4</text>
<line x1="89.60000000000001" y1="627.5" x2="94.2" y2="627.5" stroke="#000" stroke-width="2.6"/>
<line x1="85.8" y1="614.2" x2="94.2" y2="614.2" stroke="#000" stroke-width="2.6"/>
<text x="80.6" y="620.4" font-size="18.10" font-weight="normal" font-style="normal" fill="#111" text-anchor="end"  textLength="24.2" lengthAdjust="spacingAndGlyphs">0.6</text>
<line x1="89.60000000000001" y1="600.9" x2="94.2" y2="600.9" stroke="#000" stroke-width="2.6"/>
<line x1="85.8" y1="587.7" x2="94.2" y2="587.7" stroke="#000" stroke-width="2.6"/>
<text x="80.6" y="593.9" font-size="18.10" font-weight="normal" font-style="normal" fill="#111" text-anchor="end"  textLength="24.2" lengthAdjust="spacingAndGlyphs">0.8</text>
<line x1="89.60000000000001" y1="574.4" x2="94.2" y2="574.4" stroke="#000" stroke-width="2.6"/>
<line x1="85.8" y1="561.1" x2="94.2" y2="561.1" stroke="#000" stroke-width="2.6"/>
<text x="80.6" y="567.3" font-size="18.10" font-weight="normal" font-style="normal" fill="#111" text-anchor="end"  textLength="24.2" lengthAdjust="spacingAndGlyphs">1.0</text>
<line x1="111.7" y1="693.9" x2="111.7" y2="700.8" stroke="#000" stroke-width="2.0"/>
<line x1="146.2" y1="693.9" x2="146.2" y2="707.1" stroke="#000" stroke-width="2.0"/>
<line x1="180.6" y1="693.9" x2="180.6" y2="700.8" stroke="#000" stroke-width="2.0"/>
<line x1="215.1" y1="693.9" x2="215.1" y2="707.1" stroke="#000" stroke-width="2.0"/>
<line x1="249.5" y1="693.9" x2="249.5" y2="700.8" stroke="#000" stroke-width="2.0"/>
<line x1="284.0" y1="693.9" x2="284.0" y2="707.1" stroke="#000" stroke-width="2.0"/>
<line x1="318.5" y1="693.9" x2="318.5" y2="700.8" stroke="#000" stroke-width="2.0"/>
<line x1="352.9" y1="693.9" x2="352.9" y2="707.1" stroke="#000" stroke-width="2.0"/>
<line x1="387.4" y1="693.9" x2="387.4" y2="700.8" stroke="#000" stroke-width="2.0"/>
<line x1="421.8" y1="693.9" x2="421.8" y2="707.1" stroke="#000" stroke-width="2.0"/>
<line x1="456.3" y1="693.9" x2="456.3" y2="700.8" stroke="#000" stroke-width="2.0"/>
<line x1="490.8" y1="693.9" x2="490.8" y2="707.1" stroke="#000" stroke-width="2.0"/>
<line x1="525.2" y1="693.9" x2="525.2" y2="700.8" stroke="#000" stroke-width="2.0"/>
<line x1="559.7" y1="693.9" x2="559.7" y2="707.1" stroke="#000" stroke-width="2.0"/>
<circle cx="111.8" cy="561.4" r="4.25" fill="#fff" stroke="#111" stroke-width="0.85"/>
<circle cx="111.8" cy="576.5" r="4.25" fill="#fff" stroke="#111" stroke-width="0.85"/>
<circle cx="102.8" cy="589.9" r="4.25" fill="#fff" stroke="#111" stroke-width="0.85"/>
<circle cx="120.4" cy="592.8" r="4.25" fill="#fff" stroke="#111" stroke-width="0.85"/>
<circle cx="102.8" cy="617.4" r="4.25" fill="#fff" stroke="#111" stroke-width="0.85"/>
<circle cx="111.3" cy="612.3" r="4.25" fill="#fff" stroke="#111" stroke-width="0.85"/>
<circle cx="120.4" cy="613.0" r="4.25" fill="#fff" stroke="#111" stroke-width="0.85"/>
<circle cx="111.3" cy="625.7" r="4.25" fill="#fff" stroke="#111" stroke-width="0.85"/>
<circle cx="137.4" cy="669.0" r="4.25" fill="#fff" stroke="#111" stroke-width="0.85"/>
<circle cx="146.4" cy="667.8" r="4.25" fill="#fff" stroke="#111" stroke-width="0.85"/>
<circle cx="154.4" cy="670.8" r="4.25" fill="#fff" stroke="#111" stroke-width="0.85"/>
<circle cx="146.4" cy="678.3" r="4.25" fill="#fff" stroke="#111" stroke-width="0.85"/>
<circle cx="137.9" cy="682.4" r="4.25" fill="#fff" stroke="#111" stroke-width="0.85"/>
<circle cx="137.4" cy="700.7" r="4.25" fill="#fff" stroke="#111" stroke-width="0.85"/>
<circle cx="146.4" cy="709.2" r="4.25" fill="#fff" stroke="#111" stroke-width="0.85"/>
<circle cx="171.5" cy="684.9" r="4.25" fill="#fff" stroke="#111" stroke-width="0.85"/>
<circle cx="180.7" cy="688.0" r="4.25" fill="#fff" stroke="#111" stroke-width="0.85"/>
<circle cx="189.0" cy="686.1" r="4.25" fill="#fff" stroke="#111" stroke-width="0.85"/>
<circle cx="171.5" cy="698.3" r="4.25" fill="#fff" stroke="#111" stroke-width="0.85"/>
<circle cx="188.5" cy="695.8" r="4.25" fill="#fff" stroke="#111" stroke-width="0.85"/>
<circle cx="180.7" cy="705.1" r="4.25" fill="#fff" stroke="#111" stroke-width="0.85"/>
<circle cx="171.5" cy="708.7" r="4.25" fill="#fff" stroke="#111" stroke-width="0.85"/>
<circle cx="189.0" cy="706.8" r="4.25" fill="#fff" stroke="#111" stroke-width="0.85"/>
<circle cx="180.7" cy="720.2" r="4.25" fill="#fff" stroke="#111" stroke-width="0.85"/>
<circle cx="206.8" cy="600.9" r="4.25" fill="#fff" stroke="#111" stroke-width="0.85"/>
<circle cx="215.3" cy="597.2" r="4.25" fill="#fff" stroke="#111" stroke-width="0.85"/>
<circle cx="223.8" cy="607.0" r="4.25" fill="#fff" stroke="#111" stroke-width="0.85"/>
<circle cx="206.8" cy="613.0" r="4.25" fill="#fff" stroke="#111" stroke-width="0.85"/>
<circle cx="215.3" cy="630.6" r="4.25" fill="#fff" stroke="#111" stroke-width="0.85"/>
<circle cx="240.9" cy="605.7" r="4.25" fill="#fff" stroke="#111" stroke-width="0.85"/>
<circle cx="249.4" cy="594.1" r="4.25" fill="#fff" stroke="#111" stroke-width="0.85"/>
<circle cx="257.9" cy="600.4" r="4.25" fill="#fff" stroke="#111" stroke-width="0.85"/>
<circle cx="240.9" cy="612.6" r="4.25" fill="#fff" stroke="#111" stroke-width="0.85"/>
<circle cx="249.4" cy="616.7" r="4.25" fill="#fff" stroke="#111" stroke-width="0.85"/>
<circle cx="257.4" cy="606.2" r="4.25" fill="#fff" stroke="#111" stroke-width="0.85"/>
<circle cx="284.2" cy="579.4" r="4.25" fill="#fff" stroke="#111" stroke-width="0.85"/>
<circle cx="275.5" cy="606.2" r="4.25" fill="#fff" stroke="#111" stroke-width="0.85"/>
<circle cx="284.2" cy="616.0" r="4.25" fill="#fff" stroke="#111" stroke-width="0.85"/>
<circle cx="275.5" cy="631.3" r="4.25" fill="#fff" stroke="#111" stroke-width="0.85"/>
<circle cx="284.2" cy="636.2" r="4.25" fill="#fff" stroke="#111" stroke-width="0.85"/>
<circle cx="292.5" cy="630.1" r="4.25" fill="#fff" stroke="#111" stroke-width="0.85"/>
<circle cx="309.7" cy="591.9" r="4.25" fill="#fff" stroke="#111" stroke-width="0.85"/>
<circle cx="318.3" cy="585.0" r="4.25" fill="#fff" stroke="#111" stroke-width="0.85"/>
<circle cx="309.7" cy="607.7" r="4.25" fill="#fff" stroke="#111" stroke-width="0.85"/>
<circle cx="318.3" cy="609.4" r="4.25" fill="#fff" stroke="#111" stroke-width="0.85"/>
<circle cx="326.8" cy="602.8" r="4.25" fill="#fff" stroke="#111" stroke-width="0.85"/>
<circle cx="352.8" cy="578.2" r="4.25" fill="#fff" stroke="#111" stroke-width="0.85"/>
<circle cx="361.4" cy="598.4" r="4.25" fill="#fff" stroke="#111" stroke-width="0.85"/>
<circle cx="344.3" cy="611.1" r="4.25" fill="#fff" stroke="#111" stroke-width="0.85"/>
<circle cx="361.4" cy="614.3" r="4.25" fill="#fff" stroke="#111" stroke-width="0.85"/>
<circle cx="344.3" cy="619.9" r="4.25" fill="#fff" stroke="#111" stroke-width="0.85"/>
<circle cx="352.8" cy="637.9" r="4.25" fill="#fff" stroke="#111" stroke-width="0.85"/>
<circle cx="378.4" cy="567.3" r="4.25" fill="#fff" stroke="#111" stroke-width="0.85"/>
<circle cx="387.2" cy="561.4" r="4.25" fill="#fff" stroke="#111" stroke-width="0.85"/>
<circle cx="387.2" cy="570.4" r="4.25" fill="#fff" stroke="#111" stroke-width="0.85"/>
<circle cx="378.4" cy="577.7" r="4.25" fill="#fff" stroke="#111" stroke-width="0.85"/>
<circle cx="387.2" cy="578.2" r="4.25" fill="#fff" stroke="#111" stroke-width="0.85"/>
<circle cx="395.7" cy="576.0" r="4.25" fill="#fff" stroke="#111" stroke-width="0.85"/>
<circle cx="413.2" cy="600.9" r="4.25" fill="#fff" stroke="#111" stroke-width="0.85"/>
<circle cx="421.7" cy="596.5" r="4.25" fill="#fff" stroke="#111" stroke-width="0.85"/>
<circle cx="430.3" cy="597.7" r="4.25" fill="#fff" stroke="#111" stroke-width="0.85"/>
<circle cx="430.3" cy="622.1" r="4.25" fill="#fff" stroke="#111" stroke-width="0.85"/>
<circle cx="413.2" cy="631.3" r="4.25" fill="#fff" stroke="#111" stroke-width="0.85"/>
<circle cx="421.7" cy="641.8" r="4.25" fill="#fff" stroke="#111" stroke-width="0.85"/>
<circle cx="447.3" cy="604.5" r="4.25" fill="#fff" stroke="#111" stroke-width="0.85"/>
<circle cx="455.8" cy="602.1" r="4.25" fill="#fff" stroke="#111" stroke-width="0.85"/>
<circle cx="447.3" cy="608.2" r="4.25" fill="#fff" stroke="#111" stroke-width="0.85"/>
<circle cx="455.8" cy="608.2" r="4.25" fill="#fff" stroke="#111" stroke-width="0.85"/>
<circle cx="464.4" cy="607.0" r="4.25" fill="#fff" stroke="#111" stroke-width="0.85"/>
<circle cx="482.1" cy="571.7" r="4.25" fill="#fff" stroke="#111" stroke-width="0.85"/>
<circle cx="490.7" cy="570.4" r="4.25" fill="#fff" stroke="#111" stroke-width="0.85"/>
<circle cx="490.7" cy="577.7" r="4.25" fill="#fff" stroke="#111" stroke-width="0.85"/>
<circle cx="499.2" cy="580.2" r="4.25" fill="#fff" stroke="#111" stroke-width="0.85"/>
<circle cx="482.1" cy="599.2" r="4.25" fill="#fff" stroke="#111" stroke-width="0.85"/>
<circle cx="490.7" cy="599.2" r="4.25" fill="#fff" stroke="#111" stroke-width="0.85"/>
<circle cx="516.2" cy="599.2" r="4.25" fill="#fff" stroke="#111" stroke-width="0.85"/>
<circle cx="524.7" cy="587.5" r="4.25" fill="#fff" stroke="#111" stroke-width="0.85"/>
<circle cx="533.3" cy="594.1" r="4.25" fill="#fff" stroke="#111" stroke-width="0.85"/>
<circle cx="533.3" cy="605.7" r="4.25" fill="#fff" stroke="#111" stroke-width="0.85"/>
<circle cx="516.2" cy="618.6" r="4.25" fill="#fff" stroke="#111" stroke-width="0.85"/>
<circle cx="524.7" cy="619.9" r="4.25" fill="#fff" stroke="#111" stroke-width="0.85"/>
<circle cx="550.8" cy="599.2" r="4.25" fill="#fff" stroke="#111" stroke-width="0.85"/>
<circle cx="559.8" cy="585.0" r="4.25" fill="#fff" stroke="#111" stroke-width="0.85"/>
<circle cx="568.3" cy="590.6" r="4.25" fill="#fff" stroke="#111" stroke-width="0.85"/>
<circle cx="559.8" cy="600.9" r="4.25" fill="#fff" stroke="#111" stroke-width="0.85"/>
<circle cx="550.8" cy="606.2" r="4.25" fill="#fff" stroke="#111" stroke-width="0.85"/>
<circle cx="559.8" cy="628.1" r="4.25" fill="#fff" stroke="#111" stroke-width="0.85"/>
<text x="145.3" y="661.5" font-size="15.08" font-weight="normal" font-style="normal" fill="#111" text-anchor="middle"  textLength="16.9" lengthAdjust="spacingAndGlyphs">***</text>
<text x="178.2" y="676.0" font-size="15.08" font-weight="normal" font-style="normal" fill="#111" text-anchor="middle"  textLength="16.9" lengthAdjust="spacingAndGlyphs">***</text>
<text transform="translate(39.0,698.4) rotate(-90)" font-size="21.9" fill="#111" textLength="137.5" lengthAdjust="spacingAndGlyphs">AI after 30 min</text>
<text transform="translate(116.6,722.8) rotate(-90)" font-size="18" font-style="italic" text-anchor="end" fill="#111"><tspan>w</tspan><tspan font-size="10.4" dy="-10.2">1118</tspan></text>
<text transform="translate(148.9,722.8) rotate(-90)" font-size="18" font-style="italic" text-anchor="end" fill="#111"><tspan>trp</tspan><tspan font-style="normal" font-size="14.5">γ</tspan><tspan font-size="10.4" dy="-10.2">1</tspan></text>
<text transform="translate(186.8,722.8) rotate(-90)" font-size="18" font-style="italic" text-anchor="end" fill="#111"><tspan>trp</tspan><tspan font-style="normal" font-size="14.5">γ</tspan><tspan font-size="10.4" dy="-10.2">Gal4</tspan></text>
<text transform="translate(220.3,722.8) rotate(-90)" font-size="18" font-style="italic" text-anchor="end" fill="#111"><tspan>trpl</tspan><tspan font-size="10.4" dy="-10.2">302</tspan></text>
<text transform="translate(254.6,722.8) rotate(-90)" font-size="18" font-style="italic" text-anchor="end" fill="#111"><tspan>trpm</tspan><tspan font-size="10.4" dy="-10.2">2</tspan></text>
<text transform="translate(289.0,722.8) rotate(-90)" font-size="18" font-style="italic" text-anchor="end" fill="#111"><tspan>trpa1</tspan><tspan font-size="10.4" dy="-10.2">1</tspan></text>
<text transform="translate(323.2,722.8) rotate(-90)" font-size="18" font-style="italic" text-anchor="end" fill="#111"><tspan>nomPC</tspan><tspan font-size="10.4" dy="-10.2">3</tspan></text>
<text transform="translate(357.9,722.8) rotate(-90)" font-size="18" font-style="italic" text-anchor="end" fill="#111"><tspan>iav</tspan><tspan font-size="10.4" dy="-10.2">3621</tspan></text>
<text transform="translate(391.7,722.8) rotate(-90)" font-size="18" font-style="italic" text-anchor="end" fill="#111"><tspan>trp</tspan><tspan font-size="10.4" dy="-10.2">74</tspan></text>
<text transform="translate(426.1,722.8) rotate(-90)" font-size="18" font-style="italic" text-anchor="end" fill="#111"><tspan>wtrw-RNAi</tspan></text>
<text transform="translate(460.3,722.8) rotate(-90)" font-size="18" font-style="italic" text-anchor="end" fill="#111"><tspan>pyx-RNAi</tspan></text>
<text transform="translate(494.6,722.8) rotate(-90)" font-size="18" font-style="italic" text-anchor="end" fill="#111"><tspan>trpml</tspan><tspan font-size="10.4" dy="-10.2">1</tspan></text>
<text transform="translate(529.4,722.8) rotate(-90)" font-size="18" font-style="italic" text-anchor="end" fill="#111"><tspan>pain</tspan><tspan font-size="10.4" dy="-10.2">EP2251</tspan></text>
<text transform="translate(566.5,722.8) rotate(-90)" font-size="18" font-style="italic" text-anchor="end" fill="#111"><tspan>nan</tspan><tspan font-size="10.4" dy="-10.2">Gal4</tspan></text>
<rect x="723.9" y="589.4" width="28.2" height="110.6" fill="#058005"/>
<rect x="758.4" y="700.0" width="28.2" height="2.8" fill="#058005"/>
<rect x="792.8" y="698.9" width="28.2" height="1.1" fill="#058005"/>
<rect x="827.3" y="607.7" width="28.2" height="92.3" fill="#058005"/>
<rect x="861.7" y="604.5" width="28.2" height="95.5" fill="#058005"/>
<rect x="896.2" y="636.2" width="28.2" height="63.8" fill="#058005"/>
<rect x="930.7" y="618.7" width="28.2" height="81.3" fill="#058005"/>
<rect x="965.1" y="572.4" width="28.2" height="127.6" fill="#058005"/>
<rect x="999.6" y="589.4" width="28.2" height="110.6" fill="#058005"/>
<rect x="1034.0" y="585.3" width="28.2" height="114.7" fill="#058005"/>
<rect x="1068.5" y="617.4" width="28.2" height="82.6" fill="#058005"/>
<rect x="1103.0" y="573.4" width="28.2" height="126.6" fill="#058005"/>
<rect x="1137.4" y="623.3" width="28.2" height="76.7" fill="#058005"/>
<rect x="1171.9" y="606.2" width="28.2" height="93.8" fill="#058005"/>
<path d="M738.0 589.4V580.9M732.8 580.9h10.4" stroke="#000" stroke-width="1.6" fill="none"/>
<path d="M772.5 702.8V709.3M767.3 709.3h10.4" stroke="#000" stroke-width="1.6" fill="none"/>
<path d="M806.9 698.9V695.2M801.7 695.2h10.4" stroke="#000" stroke-width="1.6" fill="none"/>
<path d="M841.4 607.7V602.2M836.2 602.2h10.4" stroke="#000" stroke-width="1.6" fill="none"/>
<path d="M875.8 604.5V598.4M870.6 598.4h10.4" stroke="#000" stroke-width="1.6" fill="none"/>
<path d="M910.3 636.2V631.3M905.1 631.3h10.4" stroke="#000" stroke-width="1.6" fill="none"/>
<path d="M944.8 618.7V614.3M939.6 614.3h10.4" stroke="#000" stroke-width="1.6" fill="none"/>
<path d="M979.2 572.4V570.1M974.0 570.1h10.4" stroke="#000" stroke-width="1.6" fill="none"/>
<path d="M1013.7 589.4V585.3M1008.5 585.3h10.4" stroke="#000" stroke-width="1.6" fill="none"/>
<path d="M1048.1 585.3V578.9M1042.9 578.9h10.4" stroke="#000" stroke-width="1.6" fill="none"/>
<path d="M1082.6 617.4V612.5M1077.4 612.5h10.4" stroke="#000" stroke-width="1.6" fill="none"/>
<path d="M1117.1 573.4V568.7M1111.9 568.7h10.4" stroke="#000" stroke-width="1.6" fill="none"/>
<path d="M1151.5 623.3V617.9M1146.3 617.9h10.4" stroke="#000" stroke-width="1.6" fill="none"/>
<path d="M1186.0 606.2V597.7M1180.8 597.7h10.4" stroke="#000" stroke-width="1.6" fill="none"/>
<line x1="721.2" y1="547.3" x2="721.2" y2="728.9" stroke="#000" stroke-width="3"/>
<line x1="719.7" y1="700" x2="1203.7" y2="700" stroke="#000" stroke-width="2.4"/>
<line x1="712.8000000000001" y1="727.6" x2="721.2" y2="727.6" stroke="#000" stroke-width="2.6"/>
<text x="707.6" y="733.8" font-size="18.41" font-weight="normal" font-style="normal" fill="#111" text-anchor="end"  textLength="30.5" lengthAdjust="spacingAndGlyphs">-0.2</text>
<line x1="716.6" y1="713.8" x2="721.2" y2="713.8" stroke="#000" stroke-width="2.6"/>
<line x1="712.8000000000001" y1="700.0" x2="721.2" y2="700.0" stroke="#000" stroke-width="2.6"/>
<text x="707.6" y="706.2" font-size="18.41" font-weight="normal" font-style="normal" fill="#111" text-anchor="end"  textLength="24.6" lengthAdjust="spacingAndGlyphs">0.0</text>
<line x1="716.6" y1="686.2" x2="721.2" y2="686.2" stroke="#000" stroke-width="2.6"/>
<line x1="712.8000000000001" y1="672.4" x2="721.2" y2="672.4" stroke="#000" stroke-width="2.6"/>
<text x="707.6" y="678.6" font-size="18.41" font-weight="normal" font-style="normal" fill="#111" text-anchor="end"  textLength="24.6" lengthAdjust="spacingAndGlyphs">0.2</text>
<line x1="716.6" y1="658.5" x2="721.2" y2="658.5" stroke="#000" stroke-width="2.6"/>
<line x1="712.8000000000001" y1="644.7" x2="721.2" y2="644.7" stroke="#000" stroke-width="2.6"/>
<text x="707.6" y="650.9" font-size="18.41" font-weight="normal" font-style="normal" fill="#111" text-anchor="end"  textLength="24.6" lengthAdjust="spacingAndGlyphs">0.4</text>
<line x1="716.6" y1="630.9" x2="721.2" y2="630.9" stroke="#000" stroke-width="2.6"/>
<line x1="712.8000000000001" y1="617.1" x2="721.2" y2="617.1" stroke="#000" stroke-width="2.6"/>
<text x="707.6" y="623.3" font-size="18.41" font-weight="normal" font-style="normal" fill="#111" text-anchor="end"  textLength="24.6" lengthAdjust="spacingAndGlyphs">0.6</text>
<line x1="716.6" y1="603.3" x2="721.2" y2="603.3" stroke="#000" stroke-width="2.6"/>
<line x1="712.8000000000001" y1="589.4" x2="721.2" y2="589.4" stroke="#000" stroke-width="2.6"/>
<text x="707.6" y="595.6" font-size="18.41" font-weight="normal" font-style="normal" fill="#111" text-anchor="end"  textLength="24.6" lengthAdjust="spacingAndGlyphs">0.8</text>
<line x1="716.6" y1="575.6" x2="721.2" y2="575.6" stroke="#000" stroke-width="2.6"/>
<line x1="712.8000000000001" y1="561.8" x2="721.2" y2="561.8" stroke="#000" stroke-width="2.6"/>
<text x="707.6" y="568.0" font-size="18.41" font-weight="normal" font-style="normal" fill="#111" text-anchor="end"  textLength="24.6" lengthAdjust="spacingAndGlyphs">1.0</text>
<line x1="738.0" y1="700" x2="738.0" y2="706.9" stroke="#000" stroke-width="2.0"/>
<line x1="772.5" y1="700" x2="772.5" y2="713.2" stroke="#000" stroke-width="2.0"/>
<line x1="806.9" y1="700" x2="806.9" y2="706.9" stroke="#000" stroke-width="2.0"/>
<line x1="841.4" y1="700" x2="841.4" y2="713.2" stroke="#000" stroke-width="2.0"/>
<line x1="875.8" y1="700" x2="875.8" y2="706.9" stroke="#000" stroke-width="2.0"/>
<line x1="910.3" y1="700" x2="910.3" y2="713.2" stroke="#000" stroke-width="2.0"/>
<line x1="944.8" y1="700" x2="944.8" y2="706.9" stroke="#000" stroke-width="2.0"/>
<line x1="979.2" y1="700" x2="979.2" y2="713.2" stroke="#000" stroke-width="2.0"/>
<line x1="1013.7" y1="700" x2="1013.7" y2="706.9" stroke="#000" stroke-width="2.0"/>
<line x1="1048.1" y1="700" x2="1048.1" y2="713.2" stroke="#000" stroke-width="2.0"/>
<line x1="1082.6" y1="700" x2="1082.6" y2="706.9" stroke="#000" stroke-width="2.0"/>
<line x1="1117.1" y1="700" x2="1117.1" y2="713.2" stroke="#000" stroke-width="2.0"/>
<line x1="1151.5" y1="700" x2="1151.5" y2="706.9" stroke="#000" stroke-width="2.0"/>
<line x1="1186.0" y1="700" x2="1186.0" y2="713.2" stroke="#000" stroke-width="2.0"/>
<circle cx="729.6" cy="562.4" r="4.25" fill="#fff" stroke="#111" stroke-width="0.85"/>
<circle cx="738.1" cy="562.4" r="4.25" fill="#fff" stroke="#111" stroke-width="0.85"/>
<circle cx="746.6" cy="581.9" r="4.25" fill="#fff" stroke="#111" stroke-width="0.85"/>
<circle cx="729.6" cy="586.7" r="4.25" fill="#fff" stroke="#111" stroke-width="0.85"/>
<circle cx="738.1" cy="587.5" r="4.25" fill="#fff" stroke="#111" stroke-width="0.85"/>
<circle cx="746.6" cy="597.7" r="4.25" fill="#fff" stroke="#111" stroke-width="0.85"/>
<circle cx="729.6" cy="605.0" r="4.25" fill="#fff" stroke="#111" stroke-width="0.85"/>
<circle cx="738.1" cy="633.7" r="4.25" fill="#fff" stroke="#111" stroke-width="0.85"/>
<circle cx="764.2" cy="693.4" r="4.25" fill="#fff" stroke="#111" stroke-width="0.85"/>
<circle cx="773.2" cy="689.7" r="4.25" fill="#fff" stroke="#111" stroke-width="0.85"/>
<circle cx="781.7" cy="700.2" r="4.25" fill="#fff" stroke="#111" stroke-width="0.85"/>
<circle cx="764.2" cy="712.9" r="4.25" fill="#fff" stroke="#111" stroke-width="0.85"/>
<circle cx="773.2" cy="713.4" r="4.25" fill="#fff" stroke="#111" stroke-width="0.85"/>
<circle cx="798.3" cy="685.6" r="4.25" fill="#fff" stroke="#111" stroke-width="0.85"/>
<circle cx="807.3" cy="669.0" r="4.25" fill="#fff" stroke="#111" stroke-width="0.85"/>
<circle cx="798.3" cy="695.1" r="4.25" fill="#fff" stroke="#111" stroke-width="0.85"/>
<circle cx="807.3" cy="693.4" r="4.25" fill="#fff" stroke="#111" stroke-width="0.85"/>
<circle cx="815.8" cy="696.6" r="4.25" fill="#fff" stroke="#111" stroke-width="0.85"/>
<circle cx="798.3" cy="712.1" r="4.25" fill="#fff" stroke="#111" stroke-width="0.85"/>
<circle cx="807.3" cy="708.7" r="4.25" fill="#fff" stroke="#111" stroke-width="0.85"/>
<circle cx="815.8" cy="711.2" r="4.25" fill="#fff" stroke="#111" stroke-width="0.85"/>
<circle cx="807.3" cy="720.2" r="4.25" fill="#fff" stroke="#111" stroke-width="0.85"/>
<circle cx="842.1" cy="585.8" r="4.25" fill="#fff" stroke="#111" stroke-width="0.85"/>
<circle cx="833.1" cy="600.1" r="4.25" fill="#fff" stroke="#111" stroke-width="0.85"/>
<circle cx="850.9" cy="597.2" r="4.25" fill="#fff" stroke="#111" stroke-width="0.85"/>
<circle cx="841.6" cy="604.5" r="4.25" fill="#fff" stroke="#111" stroke-width="0.85"/>
<circle cx="850.4" cy="613.0" r="4.25" fill="#fff" stroke="#111" stroke-width="0.85"/>
<circle cx="833.1" cy="626.4" r="4.25" fill="#fff" stroke="#111" stroke-width="0.85"/>
<circle cx="842.1" cy="627.2" r="4.25" fill="#fff" stroke="#111" stroke-width="0.85"/>
<circle cx="876.2" cy="577.0" r="4.25" fill="#fff" stroke="#111" stroke-width="0.85"/>
<circle cx="884.7" cy="585.0" r="4.25" fill="#fff" stroke="#111" stroke-width="0.85"/>
<circle cx="867.7" cy="592.3" r="4.25" fill="#fff" stroke="#111" stroke-width="0.85"/>
<circle cx="876.2" cy="594.8" r="4.25" fill="#fff" stroke="#111" stroke-width="0.85"/>
<circle cx="884.7" cy="603.8" r="4.25" fill="#fff" stroke="#111" stroke-width="0.85"/>
<circle cx="867.7" cy="636.9" r="4.25" fill="#fff" stroke="#111" stroke-width="0.85"/>
<circle cx="876.2" cy="647.1" r="4.25" fill="#fff" stroke="#111" stroke-width="0.85"/>
<circle cx="910.3" cy="620.8" r="4.25" fill="#fff" stroke="#111" stroke-width="0.85"/>
<circle cx="919.3" cy="625.2" r="4.25" fill="#fff" stroke="#111" stroke-width="0.85"/>
<circle cx="901.7" cy="630.1" r="4.25" fill="#fff" stroke="#111" stroke-width="0.85"/>
<circle cx="910.3" cy="634.5" r="4.25" fill="#fff" stroke="#111" stroke-width="0.85"/>
<circle cx="919.3" cy="639.3" r="4.25" fill="#fff" stroke="#111" stroke-width="0.85"/>
<circle cx="901.7" cy="642.3" r="4.25" fill="#fff" stroke="#111" stroke-width="0.85"/>
<circle cx="910.3" cy="660.5" r="4.25" fill="#fff" stroke="#111" stroke-width="0.85"/>
<circle cx="944.3" cy="599.2" r="4.25" fill="#fff" stroke="#111" stroke-width="0.85"/>
<circle cx="935.8" cy="617.9" r="4.25" fill="#fff" stroke="#111" stroke-width="0.85"/>
<circle cx="944.3" cy="619.1" r="4.25" fill="#fff" stroke="#111" stroke-width="0.85"/>
<circle cx="935.8" cy="624.5" r="4.25" fill="#fff" stroke="#111" stroke-width="0.85"/>
<circle cx="953.4" cy="623.5" r="4.25" fill="#fff" stroke="#111" stroke-width="0.85"/>
<circle cx="944.3" cy="630.6" r="4.25" fill="#fff" stroke="#111" stroke-width="0.85"/>
<circle cx="970.6" cy="568.0" r="4.25" fill="#fff" stroke="#111" stroke-width="0.85"/>
<circle cx="979.2" cy="564.3" r="4.25" fill="#fff" stroke="#111" stroke-width="0.85"/>
<circle cx="970.6" cy="572.9" r="4.25" fill="#fff" stroke="#111" stroke-width="0.85"/>
<circle cx="979.2" cy="571.7" r="4.25" fill="#fff" stroke="#111" stroke-width="0.85"/>
<circle cx="988.2" cy="572.9" r="4.25" fill="#fff" stroke="#111" stroke-width="0.85"/>
<circle cx="979.2" cy="579.0" r="4.25" fill="#fff" stroke="#111" stroke-width="0.85"/>
<circle cx="1013.7" cy="572.9" r="4.25" fill="#fff" stroke="#111" stroke-width="0.85"/>
<circle cx="1004.7" cy="579.0" r="4.25" fill="#fff" stroke="#111" stroke-width="0.85"/>
<circle cx="1013.7" cy="580.9" r="4.25" fill="#fff" stroke="#111" stroke-width="0.85"/>
<circle cx="1022.3" cy="581.9" r="4.25" fill="#fff" stroke="#111" stroke-width="0.85"/>
<circle cx="1004.7" cy="594.8" r="4.25" fill="#fff" stroke="#111" stroke-width="0.85"/>
<circle cx="1013.7" cy="626.4" r="4.25" fill="#fff" stroke="#111" stroke-width="0.85"/>
<circle cx="1039.8" cy="570.4" r="4.25" fill="#fff" stroke="#111" stroke-width="0.85"/>
<circle cx="1048.6" cy="568.0" r="4.25" fill="#fff" stroke="#111" stroke-width="0.85"/>
<circle cx="1048.6" cy="577.7" r="4.25" fill="#fff" stroke="#111" stroke-width="0.85"/>
<circle cx="1039.8" cy="596.0" r="4.25" fill="#fff" stroke="#111" stroke-width="0.85"/>
<circle cx="1057.1" cy="594.8" r="4.25" fill="#fff" stroke="#111" stroke-width="0.85"/>
<circle cx="1048.6" cy="605.7" r="4.25" fill="#fff" stroke="#111" stroke-width="0.85"/>
<circle cx="1082.4" cy="599.7" r="4.25" fill="#fff" stroke="#111" stroke-width="0.85"/>
<circle cx="1073.9" cy="614.3" r="4.25" fill="#fff" stroke="#111" stroke-width="0.85"/>
<circle cx="1073.9" cy="622.8" r="4.25" fill="#fff" stroke="#111" stroke-width="0.85"/>
<circle cx="1082.4" cy="620.4" r="4.25" fill="#fff" stroke="#111" stroke-width="0.85"/>
<circle cx="1091.2" cy="620.8" r="4.25" fill="#fff" stroke="#111" stroke-width="0.85"/>
<circle cx="1082.4" cy="625.7" r="4.25" fill="#fff" stroke="#111" stroke-width="0.85"/>
<circle cx="1117.2" cy="561.9" r="4.25" fill="#fff" stroke="#111" stroke-width="0.85"/>
<circle cx="1108.2" cy="569.2" r="4.25" fill="#fff" stroke="#111" stroke-width="0.85"/>
<circle cx="1125.7" cy="568.0" r="4.25" fill="#fff" stroke="#111" stroke-width="0.85"/>
<circle cx="1108.2" cy="580.9" r="4.25" fill="#fff" stroke="#111" stroke-width="0.85"/>
<circle cx="1117.2" cy="587.5" r="4.25" fill="#fff" stroke="#111" stroke-width="0.85"/>
<circle cx="1151.3" cy="607.4" r="4.25" fill="#fff" stroke="#111" stroke-width="0.85"/>
<circle cx="1142.3" cy="616.2" r="4.25" fill="#fff" stroke="#111" stroke-width="0.85"/>
<circle cx="1159.8" cy="618.6" r="4.25" fill="#fff" stroke="#111" stroke-width="0.85"/>
<circle cx="1142.3" cy="632.5" r="4.25" fill="#fff" stroke="#111" stroke-width="0.85"/>
<circle cx="1151.3" cy="633.7" r="4.25" fill="#fff" stroke="#111" stroke-width="0.85"/>
<circle cx="1186.1" cy="568.0" r="4.25" fill="#fff" stroke="#111" stroke-width="0.85"/>
<circle cx="1177.4" cy="599.2" r="4.25" fill="#fff" stroke="#111" stroke-width="0.85"/>
<circle cx="1186.1" cy="608.9" r="4.25" fill="#fff" stroke="#111" stroke-width="0.85"/>
<circle cx="1177.4" cy="615.5" r="4.25" fill="#fff" stroke="#111" stroke-width="0.85"/>
<circle cx="1194.7" cy="615.5" r="4.25" fill="#fff" stroke="#111" stroke-width="0.85"/>
<circle cx="1186.1" cy="628.9" r="4.25" fill="#fff" stroke="#111" stroke-width="0.85"/>
<text x="769.5" y="679.0" font-size="15.08" font-weight="normal" font-style="normal" fill="#111" text-anchor="middle"  textLength="16.9" lengthAdjust="spacingAndGlyphs">***</text>
<text x="803.6" y="662.0" font-size="15.08" font-weight="normal" font-style="normal" fill="#111" text-anchor="middle"  textLength="16.9" lengthAdjust="spacingAndGlyphs">***</text>
<text x="911.5" y="609.5" font-size="15.08" font-weight="normal" font-style="normal" fill="#111" text-anchor="middle"  textLength="5.6" lengthAdjust="spacingAndGlyphs">*</text>
<text transform="translate(668.6,698.4) rotate(-90)" font-size="22.4" fill="#111" textLength="137.5" lengthAdjust="spacingAndGlyphs">AI after 30 min</text>
<text transform="translate(746.5,728.7) rotate(-90)" font-size="18" font-style="italic" text-anchor="end" fill="#111"><tspan>w</tspan><tspan font-size="10.4" dy="-10.2">1118</tspan></text>
<text transform="translate(780.3,728.7) rotate(-90)" font-size="18" font-style="italic" text-anchor="end" fill="#111"><tspan>trp</tspan><tspan font-style="normal" font-size="14.5">γ</tspan><tspan font-size="10.4" dy="-10.2">1</tspan></text>
<text transform="translate(815.3,728.7) rotate(-90)" font-size="18" font-style="italic" text-anchor="end" fill="#111"><tspan>trp</tspan><tspan font-style="normal" font-size="14.5">γ</tspan><tspan font-size="10.4" dy="-10.2">Gal4</tspan></text>
<text transform="translate(850.6,728.7) rotate(-90)" font-size="18" font-style="italic" text-anchor="end" fill="#111"><tspan>trpl</tspan><tspan font-size="10.4" dy="-10.2">302</tspan></text>
<text transform="translate(884.4,728.7) rotate(-90)" font-size="18" font-style="italic" text-anchor="end" fill="#111"><tspan>trpm</tspan><tspan font-size="10.4" dy="-10.2">2</tspan></text>
<text transform="translate(918.8,728.7) rotate(-90)" font-size="18" font-style="italic" text-anchor="end" fill="#111"><tspan>trpa1</tspan><tspan font-size="10.4" dy="-10.2">1</tspan></text>
<text transform="translate(953.4,728.7) rotate(-90)" font-size="18" font-style="italic" text-anchor="end" fill="#111"><tspan>nomPC</tspan><tspan font-size="10.4" dy="-10.2">3</tspan></text>
<text transform="translate(988.5,728.7) rotate(-90)" font-size="18" font-style="italic" text-anchor="end" fill="#111"><tspan>iav</tspan><tspan font-size="10.4" dy="-10.2">3621</tspan></text>
<text transform="translate(1022.1,728.7) rotate(-90)" font-size="18" font-style="italic" text-anchor="end" fill="#111"><tspan>trp</tspan><tspan font-size="10.4" dy="-10.2">74</tspan></text>
<text transform="translate(1056.5,728.7) rotate(-90)" font-size="18" font-style="italic" text-anchor="end" fill="#111"><tspan>wtrw-RNAi</tspan></text>
<text transform="translate(1091.4,728.7) rotate(-90)" font-size="18" font-style="italic" text-anchor="end" fill="#111"><tspan>pyx-RNAi</tspan></text>
<text transform="translate(1125.6,728.7) rotate(-90)" font-size="18" font-style="italic" text-anchor="end" fill="#111"><tspan>trpml</tspan><tspan font-size="10.4" dy="-10.2">1</tspan></text>
<text transform="translate(1160.0,728.7) rotate(-90)" font-size="18" font-style="italic" text-anchor="end" fill="#111"><tspan>pain</tspan><tspan font-size="10.4" dy="-10.2">EP2251</tspan></text>
<text transform="translate(1196.9,728.7) rotate(-90)" font-size="18" font-style="italic" text-anchor="end" fill="#111"><tspan>nan</tspan><tspan font-size="10.4" dy="-10.2">Gal4</tspan></text>
<text transform="translate(1083,701) rotate(-50)" font-size="17.5" font-weight="bold" fill="#fff" fill-opacity="0.24" text-anchor="middle">E</text>
<text transform="translate(1110.5,693.5) rotate(-18)" font-size="17.5" font-weight="bold" fill="#fff" fill-opacity="0.24" text-anchor="middle">W</text>
<text transform="translate(1132.6,689.5) rotate(-5)" font-size="17.5" font-weight="bold" fill="#fff" fill-opacity="0.24" text-anchor="middle">H</text>
<text transform="translate(1154.6,690.5) rotate(8)" font-size="17.5" font-weight="bold" fill="#fff" fill-opacity="0.24" text-anchor="middle">U</text>
<text transform="translate(1183,697.5) rotate(30)" font-size="17.5" font-weight="bold" fill="#fff" fill-opacity="0.24" text-anchor="middle">E</text>
<text x="4.6" y="38.0" font-size="37.44" font-weight="bold" font-style="normal" fill="#000" text-anchor="start"  textLength="26.0" lengthAdjust="spacingAndGlyphs">A</text>
<text x="4.4" y="169.7" font-size="35.88" font-weight="bold" font-style="normal" fill="#000" text-anchor="start"  textLength="26.6" lengthAdjust="spacingAndGlyphs">B</text>
<text x="495.3" y="169.6" font-size="36.92" font-weight="bold" font-style="normal" fill="#000" text-anchor="start"  textLength="26.8" lengthAdjust="spacingAndGlyphs">C</text>
<text x="837.9" y="169.3" font-size="35.57" font-weight="bold" font-style="normal" fill="#000" text-anchor="start"  textLength="26.6" lengthAdjust="spacingAndGlyphs">D</text>
<text x="4.6" y="484.0" font-size="36.61" font-weight="bold" font-style="normal" fill="#000" text-anchor="start"  textLength="24.6" lengthAdjust="spacingAndGlyphs">E</text>
</svg>
</body></html>
